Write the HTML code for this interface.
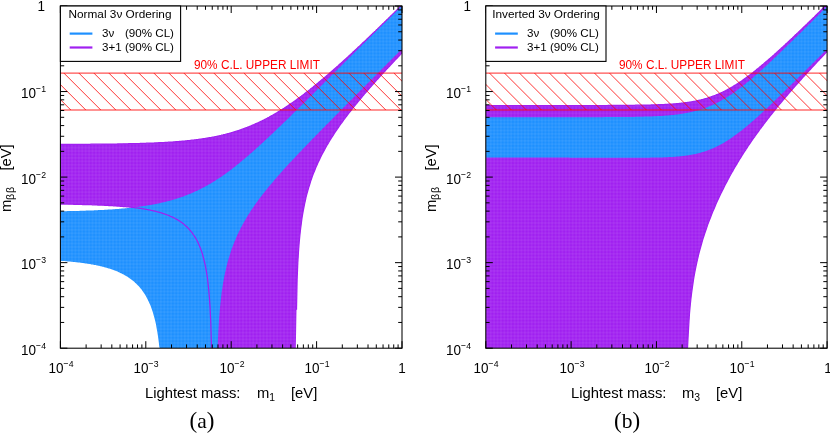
<!DOCTYPE html>
<html><head><meta charset="utf-8"><title>m_bb vs lightest mass</title>
<style>
html,body{margin:0;padding:0;background:#fff;overflow:hidden;}
body{width:830px;height:435px;position:relative;overflow:hidden;font-family:"Liberation Sans",sans-serif;color:#000;}
.t{position:absolute;white-space:nowrap;font-size:13.5px;line-height:14px;will-change:transform;}
.c{transform:translateX(-50%);}
.r{transform:translateX(-100%);}
sup{font-size:8.7px;line-height:0;vertical-align:baseline;position:relative;top:-5.5px;letter-spacing:0;}
sub{font-size:10.4px;line-height:0;vertical-align:baseline;position:relative;top:2.6px;}
.tk{display:inline-block;transform:scaleY(1.14);transform-origin:50% 80%;}
.lg{font-size:11.8px;line-height:12px;}
.le{font-size:11.6px;}
.ax{font-size:14.8px;line-height:15px;}
.red{color:#ff0000;font-size:11.8px;line-height:11px;transform:scaleY(1.07);transform-origin:50% 85%;}
.bb{font-size:10.6px;position:relative;top:3.2px;margin-left:-0.3px;letter-spacing:0.9px;}
.ev{position:absolute;left:41.4px;top:0;}
.pr{font-size:23px;position:relative;top:0px;}
.cap{font-family:"Liberation Serif",serif;font-size:21.5px;line-height:22px;}
#wrap{position:absolute;left:0;top:0;width:830px;height:435px;overflow:hidden;}
</style></head><body><div id="wrap">

<svg width="830" height="435" viewBox="0 0 830 435" style="position:absolute;left:0;top:0">
<defs>
<clipPath id="clipa"><rect x="60.4" y="6.0" width="341.6" height="342.2"/></clipPath>
<clipPath id="clipb"><rect x="485.8" y="6.0" width="341.3" height="342.2"/></clipPath>
<pattern id="grida" x="60.0" y="5.5" width="3.4200" height="3.4250" patternUnits="userSpaceOnUse"><path d="M1.710 0V3.425M0 1.712H3.420" stroke="#fff" stroke-opacity="0.1" stroke-width="0.85" fill="none"/></pattern>
<pattern id="gridb" x="485.6" y="5.5" width="3.4150" height="3.4250" patternUnits="userSpaceOnUse"><path d="M1.708 0V3.425M0 1.712H3.415" stroke="#fff" stroke-opacity="0.1" stroke-width="0.85" fill="none"/></pattern>
</defs>
<g clip-path="url(#clipa)">
<defs><path id="p4a" d="M60.0 144.4 L60.7 144.4 L61.4 144.4 L62.1 144.4 L62.7 144.4 L63.4 144.4 L64.1 144.4 L64.8 144.4 L65.5 144.4 L66.2 144.4 L66.9 144.4 L67.5 144.4 L68.2 144.4 L68.9 144.4 L69.6 144.4 L70.3 144.4 L71.0 144.4 L71.7 144.4 L72.3 144.4 L73.0 144.4 L73.7 144.4 L74.4 144.4 L75.1 144.3 L75.8 144.3 L76.4 144.3 L77.1 144.3 L77.8 144.3 L78.5 144.3 L79.2 144.3 L79.9 144.3 L80.6 144.3 L81.2 144.3 L81.9 144.3 L82.6 144.3 L83.3 144.3 L84.0 144.3 L84.7 144.3 L85.4 144.3 L86.0 144.3 L86.7 144.3 L87.4 144.3 L88.1 144.3 L88.8 144.3 L89.5 144.3 L90.2 144.3 L90.8 144.2 L91.5 144.2 L92.2 144.2 L92.9 144.2 L93.6 144.2 L94.3 144.2 L95.0 144.2 L95.6 144.2 L96.3 144.2 L97.0 144.2 L97.7 144.2 L98.4 144.2 L99.1 144.2 L99.8 144.2 L100.4 144.2 L101.1 144.2 L101.8 144.1 L102.5 144.1 L103.2 144.1 L103.9 144.1 L104.5 144.1 L105.2 144.1 L105.9 144.1 L106.6 144.1 L107.3 144.1 L108.0 144.1 L108.7 144.1 L109.3 144.1 L110.0 144.1 L110.7 144.0 L111.4 144.0 L112.1 144.0 L112.8 144.0 L113.5 144.0 L114.1 144.0 L114.8 144.0 L115.5 144.0 L116.2 144.0 L116.9 144.0 L117.6 143.9 L118.3 143.9 L118.9 143.9 L119.6 143.9 L120.3 143.9 L121.0 143.9 L121.7 143.9 L122.4 143.9 L123.1 143.8 L123.7 143.8 L124.4 143.8 L125.1 143.8 L125.8 143.8 L126.5 143.8 L127.2 143.8 L127.9 143.8 L128.5 143.7 L129.2 143.7 L129.9 143.7 L130.6 143.7 L131.3 143.7 L132.0 143.7 L132.6 143.6 L133.3 143.6 L134.0 143.6 L134.7 143.6 L135.4 143.6 L136.1 143.6 L136.8 143.5 L137.4 143.5 L138.1 143.5 L138.8 143.5 L139.5 143.5 L140.2 143.4 L140.9 143.4 L141.6 143.4 L142.2 143.4 L142.9 143.4 L143.6 143.3 L144.3 143.3 L145.0 143.3 L145.7 143.3 L146.4 143.2 L147.0 143.2 L147.7 143.2 L148.4 143.2 L149.1 143.1 L149.8 143.1 L150.5 143.1 L151.2 143.1 L151.8 143.0 L152.5 143.0 L153.2 143.0 L153.9 143.0 L154.6 142.9 L155.3 142.9 L156.0 142.9 L156.6 142.8 L157.3 142.8 L158.0 142.8 L158.7 142.7 L159.4 142.7 L160.1 142.7 L160.7 142.6 L161.4 142.6 L162.1 142.6 L162.8 142.5 L163.5 142.5 L164.2 142.5 L164.9 142.4 L165.5 142.4 L166.2 142.3 L166.9 142.3 L167.6 142.3 L168.3 142.2 L169.0 142.2 L169.7 142.1 L170.3 142.1 L171.0 142.0 L171.7 142.0 L172.4 142.0 L173.1 141.9 L173.8 141.9 L174.5 141.8 L175.1 141.8 L175.8 141.7 L176.5 141.7 L177.2 141.6 L177.9 141.5 L178.6 141.5 L179.3 141.4 L179.9 141.4 L180.6 141.3 L181.3 141.3 L182.0 141.2 L182.7 141.1 L183.4 141.1 L184.1 141.0 L184.7 141.0 L185.4 140.9 L186.1 140.8 L186.8 140.8 L187.5 140.7 L188.2 140.6 L188.8 140.5 L189.5 140.5 L190.2 140.4 L190.9 140.3 L191.6 140.2 L192.3 140.2 L193.0 140.1 L193.6 140.0 L194.3 139.9 L195.0 139.8 L195.7 139.8 L196.4 139.7 L197.1 139.6 L197.8 139.5 L198.4 139.4 L199.1 139.3 L199.8 139.2 L200.5 139.1 L201.2 139.0 L201.9 138.9 L202.6 138.8 L203.2 138.7 L203.9 138.6 L204.6 138.5 L205.3 138.4 L206.0 138.3 L206.7 138.2 L207.4 138.1 L208.0 137.9 L208.7 137.8 L209.4 137.7 L210.1 137.6 L210.8 137.5 L211.5 137.3 L212.2 137.2 L212.8 137.1 L213.5 137.0 L214.2 136.8 L214.9 136.7 L215.6 136.5 L216.3 136.4 L216.9 136.3 L217.6 136.1 L218.3 136.0 L219.0 135.8 L219.7 135.7 L220.4 135.5 L221.1 135.4 L221.7 135.2 L222.4 135.0 L223.1 134.9 L223.8 134.7 L224.5 134.5 L225.2 134.4 L225.9 134.2 L226.5 134.0 L227.2 133.8 L227.9 133.6 L228.6 133.5 L229.3 133.3 L230.0 133.1 L230.7 132.9 L231.3 132.7 L232.0 132.5 L232.7 132.3 L233.4 132.1 L234.1 131.9 L234.8 131.7 L235.5 131.5 L236.1 131.2 L236.8 131.0 L237.5 130.8 L238.2 130.6 L238.9 130.4 L239.6 130.1 L240.3 129.9 L240.9 129.7 L241.6 129.4 L242.3 129.2 L243.0 128.9 L243.7 128.7 L244.4 128.4 L245.1 128.2 L245.7 127.9 L246.4 127.6 L247.1 127.4 L247.8 127.1 L248.5 126.8 L249.2 126.6 L249.8 126.3 L250.5 126.0 L251.2 125.7 L251.9 125.4 L252.6 125.1 L253.3 124.8 L254.0 124.5 L254.6 124.2 L255.3 123.9 L256.0 123.6 L256.7 123.3 L257.4 123.0 L258.1 122.7 L258.8 122.4 L259.4 122.0 L260.1 121.7 L260.8 121.4 L261.5 121.1 L262.2 120.7 L262.9 120.4 L263.6 120.0 L264.2 119.7 L264.9 119.3 L265.6 119.0 L266.3 118.6 L267.0 118.3 L267.7 117.9 L268.4 117.5 L269.0 117.2 L269.7 116.8 L270.4 116.4 L271.1 116.0 L271.8 115.6 L272.5 115.3 L273.2 114.9 L273.8 114.5 L274.5 114.1 L275.2 113.7 L275.9 113.3 L276.6 112.9 L277.3 112.5 L277.9 112.0 L278.6 111.6 L279.3 111.2 L280.0 110.8 L280.7 110.4 L281.4 109.9 L282.1 109.5 L282.7 109.1 L283.4 108.6 L284.1 108.2 L284.8 107.7 L285.5 107.3 L286.2 106.8 L286.9 106.4 L287.5 105.9 L288.2 105.5 L288.9 105.0 L289.6 104.5 L290.3 104.1 L291.0 103.6 L291.7 103.1 L292.3 102.7 L293.0 102.2 L293.7 101.7 L294.4 101.2 L295.1 100.7 L295.8 100.2 L296.5 99.7 L297.1 99.2 L297.8 98.7 L298.5 98.2 L299.2 97.7 L299.9 97.2 L300.6 96.7 L301.3 96.2 L301.9 95.7 L302.6 95.2 L303.3 94.7 L304.0 94.2 L304.7 93.6 L305.4 93.1 L306.0 92.6 L306.7 92.0 L307.4 91.5 L308.1 91.0 L308.8 90.4 L309.5 89.9 L310.2 89.4 L310.8 88.8 L311.5 88.3 L312.2 87.7 L312.9 87.2 L313.6 86.6 L314.3 86.1 L315.0 85.5 L315.6 85.0 L316.3 84.4 L317.0 83.8 L317.7 83.3 L318.4 82.7 L319.1 82.1 L319.8 81.6 L320.4 81.0 L321.1 80.4 L321.8 79.8 L322.5 79.3 L323.2 78.7 L323.9 78.1 L324.6 77.5 L325.2 76.9 L325.9 76.4 L326.6 75.8 L327.3 75.2 L328.0 74.6 L328.7 74.0 L329.4 73.4 L330.0 72.8 L330.7 72.2 L331.4 71.6 L332.1 71.0 L332.8 70.4 L333.5 69.8 L334.1 69.2 L334.8 68.6 L335.5 68.0 L336.2 67.4 L336.9 66.8 L337.6 66.2 L338.3 65.6 L338.9 64.9 L339.6 64.3 L340.3 63.7 L341.0 63.1 L341.7 62.5 L342.4 61.9 L343.1 61.2 L343.7 60.6 L344.4 60.0 L345.1 59.4 L345.8 58.8 L346.5 58.1 L347.2 57.5 L347.9 56.9 L348.5 56.2 L349.2 55.6 L349.9 55.0 L350.6 54.4 L351.3 53.7 L352.0 53.1 L352.7 52.5 L353.3 51.8 L354.0 51.2 L354.7 50.5 L355.4 49.9 L356.1 49.3 L356.8 48.6 L357.5 48.0 L358.1 47.3 L358.8 46.7 L359.5 46.1 L360.2 45.4 L360.9 44.8 L361.6 44.1 L362.2 43.5 L362.9 42.8 L363.6 42.2 L364.3 41.5 L365.0 40.9 L365.7 40.2 L366.4 39.6 L367.0 38.9 L367.7 38.3 L368.4 37.6 L369.1 37.0 L369.8 36.3 L370.5 35.7 L371.2 35.0 L371.8 34.4 L372.5 33.7 L373.2 33.0 L373.9 32.4 L374.6 31.7 L375.3 31.1 L376.0 30.4 L376.6 29.7 L377.3 29.1 L378.0 28.4 L378.7 27.8 L379.4 27.1 L380.1 26.4 L380.8 25.8 L381.4 25.1 L382.1 24.5 L382.8 23.8 L383.5 23.1 L384.2 22.5 L384.9 21.8 L385.6 21.1 L386.2 20.5 L386.9 19.8 L387.6 19.1 L388.3 18.5 L389.0 17.8 L389.7 17.1 L390.3 16.5 L391.0 15.8 L391.7 15.1 L392.4 14.4 L393.1 13.8 L393.8 13.1 L394.5 12.4 L395.1 11.8 L395.8 11.1 L396.5 10.4 L397.2 9.7 L397.9 9.1 L398.6 8.4 L399.3 7.7 L399.9 7.0 L400.6 6.4 L401.3 5.7 L402.0 5.5 L402.0 52.9 L401.3 53.6 L400.6 54.4 L399.9 55.1 L399.3 55.8 L398.6 56.5 L397.9 57.2 L397.2 58.0 L396.5 58.7 L395.8 59.4 L395.1 60.1 L394.5 60.9 L393.8 61.6 L393.1 62.3 L392.4 63.0 L391.7 63.8 L391.0 64.5 L390.3 65.2 L389.7 66.0 L389.0 66.7 L388.3 67.4 L387.6 68.2 L386.9 68.9 L386.2 69.7 L385.6 70.4 L384.9 71.2 L384.2 71.9 L383.5 72.6 L382.8 73.4 L382.1 74.1 L381.4 74.9 L380.8 75.6 L380.1 76.4 L379.4 77.1 L378.7 77.9 L378.0 78.7 L377.3 79.4 L376.6 80.2 L376.0 80.9 L375.3 81.7 L374.6 82.5 L373.9 83.3 L373.2 84.0 L372.5 84.8 L371.8 85.6 L371.2 86.3 L370.5 87.1 L369.8 87.9 L369.1 88.7 L368.4 89.5 L367.7 90.3 L367.0 91.1 L366.4 91.9 L365.7 92.6 L365.0 93.4 L364.3 94.2 L363.6 95.1 L362.9 95.9 L362.2 96.7 L361.6 97.5 L360.9 98.3 L360.2 99.1 L359.5 99.9 L358.8 100.8 L358.1 101.6 L357.5 102.4 L356.8 103.3 L356.1 104.1 L355.4 104.9 L354.7 105.8 L354.0 106.6 L353.3 107.5 L352.7 108.4 L352.0 109.2 L351.3 110.1 L350.6 111.0 L349.9 111.8 L349.2 112.7 L348.5 113.6 L347.9 114.5 L347.2 115.4 L346.5 116.3 L345.8 117.2 L345.1 118.1 L344.4 119.0 L343.7 120.0 L343.1 120.9 L342.4 121.8 L341.7 122.8 L341.0 123.7 L340.3 124.7 L339.6 125.7 L338.9 126.6 L338.3 127.6 L337.6 128.6 L336.9 129.6 L336.2 130.6 L335.5 131.6 L334.8 132.7 L334.1 133.7 L333.5 134.8 L332.8 135.8 L332.1 136.9 L331.4 138.0 L330.7 139.1 L330.0 140.2 L329.4 141.3 L328.7 142.5 L328.0 143.6 L327.3 144.8 L326.6 146.0 L325.9 147.2 L325.2 148.4 L324.6 149.6 L323.9 150.9 L323.2 152.2 L322.5 153.5 L321.8 154.8 L321.1 156.1 L320.4 157.5 L319.8 158.9 L319.1 160.4 L318.4 161.8 L317.7 163.3 L317.0 164.9 L316.3 166.4 L315.6 168.0 L315.0 169.7 L314.3 171.4 L313.6 173.1 L312.9 174.9 L312.2 176.8 L311.5 178.7 L310.8 180.7 L310.2 182.8 L309.5 185.0 L308.8 187.2 L308.1 189.6 L307.4 192.1 L306.7 194.7 L306.0 197.4 L305.4 200.3 L304.7 203.4 L304.0 206.8 L303.3 210.4 L302.6 214.3 L301.9 218.6 L301.3 223.4 L300.6 228.8 L299.9 235.0 L299.2 242.3 L298.5 251.3 L297.8 262.9 L297.1 279.6 L296.5 309.8 L295.8 348.0 L295.1 348.0 L294.4 348.0 L293.7 348.0 L293.0 348.0 L292.3 348.0 L291.7 348.0 L291.0 348.0 L290.3 348.0 L289.6 348.0 L288.9 348.0 L288.2 348.0 L287.5 348.0 L286.9 348.0 L286.2 348.0 L285.5 348.0 L284.8 348.0 L284.1 348.0 L283.4 348.0 L282.7 348.0 L282.1 348.0 L281.4 348.0 L280.7 348.0 L280.0 348.0 L279.3 348.0 L278.6 348.0 L277.9 348.0 L277.3 348.0 L276.6 348.0 L275.9 348.0 L275.2 348.0 L274.5 348.0 L273.8 348.0 L273.2 348.0 L272.5 348.0 L271.8 348.0 L271.1 348.0 L270.4 348.0 L269.7 348.0 L269.0 348.0 L268.4 348.0 L267.7 348.0 L267.0 348.0 L266.3 348.0 L265.6 348.0 L264.9 348.0 L264.2 348.0 L263.6 348.0 L262.9 348.0 L262.2 348.0 L261.5 348.0 L260.8 348.0 L260.1 348.0 L259.4 348.0 L258.8 348.0 L258.1 348.0 L257.4 348.0 L256.7 348.0 L256.0 348.0 L255.3 348.0 L254.6 348.0 L254.0 348.0 L253.3 348.0 L252.6 348.0 L251.9 348.0 L251.2 348.0 L250.5 348.0 L249.8 348.0 L249.2 348.0 L248.5 348.0 L247.8 348.0 L247.1 348.0 L246.4 348.0 L245.7 348.0 L245.1 348.0 L244.4 348.0 L243.7 348.0 L243.0 348.0 L242.3 348.0 L241.6 348.0 L240.9 348.0 L240.3 348.0 L239.6 348.0 L238.9 348.0 L238.2 348.0 L237.5 348.0 L236.8 348.0 L236.1 348.0 L235.5 348.0 L234.8 348.0 L234.1 348.0 L233.4 348.0 L232.7 348.0 L232.0 348.0 L231.3 348.0 L230.7 348.0 L230.0 348.0 L229.3 348.0 L228.6 348.0 L227.9 348.0 L227.2 348.0 L226.5 348.0 L225.9 348.0 L225.2 348.0 L224.5 348.0 L223.8 348.0 L223.1 348.0 L222.4 348.0 L221.7 348.0 L221.1 348.0 L220.4 348.0 L219.7 348.0 L219.0 348.0 L218.3 348.0 L217.6 348.0 L216.9 348.0 L216.3 348.0 L215.6 348.0 L214.9 348.0 L214.2 348.0 L213.5 348.0 L212.8 348.0 L212.2 348.0 L211.5 348.0 L210.8 323.1 L210.1 308.0 L209.4 297.6 L208.7 289.6 L208.0 283.1 L207.4 277.8 L206.7 273.2 L206.0 269.1 L205.3 265.6 L204.6 262.4 L203.9 259.6 L203.2 257.0 L202.6 254.6 L201.9 252.4 L201.2 250.4 L200.5 248.5 L199.8 246.7 L199.1 245.1 L198.4 243.6 L197.8 242.1 L197.1 240.8 L196.4 239.5 L195.7 238.3 L195.0 237.1 L194.3 236.0 L193.6 235.0 L193.0 234.0 L192.3 233.1 L191.6 232.2 L190.9 231.3 L190.2 230.5 L189.5 229.7 L188.8 228.9 L188.2 228.2 L187.5 227.5 L186.8 226.8 L186.1 226.2 L185.4 225.6 L184.7 225.0 L184.1 224.4 L183.4 223.8 L182.7 223.3 L182.0 222.8 L181.3 222.3 L180.6 221.8 L179.9 221.3 L179.3 220.9 L178.6 220.5 L177.9 220.0 L177.2 219.6 L176.5 219.2 L175.8 218.9 L175.1 218.5 L174.5 218.1 L173.8 217.8 L173.1 217.4 L172.4 217.1 L171.7 216.8 L171.0 216.5 L170.3 216.2 L169.7 215.9 L169.0 215.6 L168.3 215.3 L167.6 215.0 L166.9 214.8 L166.2 214.5 L165.5 214.3 L164.9 214.0 L164.2 213.8 L163.5 213.6 L162.8 213.4 L162.1 213.1 L161.4 212.9 L160.7 212.7 L160.1 212.5 L159.4 212.3 L158.7 212.1 L158.0 211.9 L157.3 211.8 L156.6 211.6 L156.0 211.4 L155.3 211.2 L154.6 211.1 L153.9 210.9 L153.2 210.8 L152.5 210.6 L151.8 210.5 L151.2 210.3 L150.5 210.2 L149.8 210.0 L149.1 209.9 L148.4 209.8 L147.7 209.6 L147.0 209.5 L146.4 209.4 L145.7 209.3 L145.0 209.2 L144.3 209.0 L143.6 208.9 L142.9 208.8 L142.2 208.7 L141.6 208.6 L140.9 208.5 L140.2 208.4 L139.5 208.3 L138.8 208.2 L138.1 208.1 L137.4 208.0 L136.8 207.9 L136.1 207.8 L135.4 207.8 L134.7 207.7 L134.0 207.6 L133.3 207.5 L132.6 207.4 L132.0 207.3 L131.3 207.3 L130.6 207.2 L129.9 207.1 L129.2 207.1 L128.5 207.0 L127.9 206.9 L127.2 206.8 L126.5 206.8 L125.8 206.7 L125.1 206.7 L124.4 206.6 L123.7 206.5 L123.1 206.5 L122.4 206.4 L121.7 206.4 L121.0 206.3 L120.3 206.3 L119.6 206.2 L118.9 206.1 L118.3 206.1 L117.6 206.0 L116.9 206.0 L116.2 205.9 L115.5 205.9 L114.8 205.9 L114.1 205.8 L113.5 205.8 L112.8 205.7 L112.1 205.7 L111.4 205.6 L110.7 205.6 L110.0 205.6 L109.3 205.5 L108.7 205.5 L108.0 205.4 L107.3 205.4 L106.6 205.4 L105.9 205.3 L105.2 205.3 L104.5 205.3 L103.9 205.2 L103.2 205.2 L102.5 205.2 L101.8 205.1 L101.1 205.1 L100.4 205.1 L99.8 205.0 L99.1 205.0 L98.4 205.0 L97.7 205.0 L97.0 204.9 L96.3 204.9 L95.6 204.9 L95.0 204.9 L94.3 204.8 L93.6 204.8 L92.9 204.8 L92.2 204.8 L91.5 204.7 L90.8 204.7 L90.2 204.7 L89.5 204.7 L88.8 204.6 L88.1 204.6 L87.4 204.6 L86.7 204.6 L86.0 204.6 L85.4 204.5 L84.7 204.5 L84.0 204.5 L83.3 204.5 L82.6 204.5 L81.9 204.4 L81.2 204.4 L80.6 204.4 L79.9 204.4 L79.2 204.4 L78.5 204.4 L77.8 204.3 L77.1 204.3 L76.4 204.3 L75.8 204.3 L75.1 204.3 L74.4 204.3 L73.7 204.3 L73.0 204.2 L72.3 204.2 L71.7 204.2 L71.0 204.2 L70.3 204.2 L69.6 204.2 L68.9 204.2 L68.2 204.2 L67.5 204.1 L66.9 204.1 L66.2 204.1 L65.5 204.1 L64.8 204.1 L64.1 204.1 L63.4 204.1 L62.7 204.1 L62.1 204.1 L61.4 204.0 L60.7 204.0 L60.0 204.0Z"/><path id="p3a" d="M60.0 211.3 L60.7 211.3 L61.4 211.3 L62.1 211.3 L62.7 211.2 L63.4 211.2 L64.1 211.2 L64.8 211.2 L65.5 211.2 L66.2 211.2 L66.9 211.2 L67.5 211.1 L68.2 211.1 L68.9 211.1 L69.6 211.1 L70.3 211.1 L71.0 211.1 L71.7 211.1 L72.3 211.0 L73.0 211.0 L73.7 211.0 L74.4 211.0 L75.1 211.0 L75.8 211.0 L76.4 210.9 L77.1 210.9 L77.8 210.9 L78.5 210.9 L79.2 210.9 L79.9 210.8 L80.6 210.8 L81.2 210.8 L81.9 210.8 L82.6 210.8 L83.3 210.7 L84.0 210.7 L84.7 210.7 L85.4 210.7 L86.0 210.6 L86.7 210.6 L87.4 210.6 L88.1 210.6 L88.8 210.5 L89.5 210.5 L90.2 210.5 L90.8 210.5 L91.5 210.4 L92.2 210.4 L92.9 210.4 L93.6 210.4 L94.3 210.3 L95.0 210.3 L95.6 210.3 L96.3 210.2 L97.0 210.2 L97.7 210.2 L98.4 210.1 L99.1 210.1 L99.8 210.1 L100.4 210.0 L101.1 210.0 L101.8 210.0 L102.5 209.9 L103.2 209.9 L103.9 209.9 L104.5 209.8 L105.2 209.8 L105.9 209.7 L106.6 209.7 L107.3 209.7 L108.0 209.6 L108.7 209.6 L109.3 209.5 L110.0 209.5 L110.7 209.5 L111.4 209.4 L112.1 209.4 L112.8 209.3 L113.5 209.3 L114.1 209.2 L114.8 209.2 L115.5 209.1 L116.2 209.1 L116.9 209.0 L117.6 209.0 L118.3 208.9 L118.9 208.9 L119.6 208.8 L120.3 208.7 L121.0 208.7 L121.7 208.6 L122.4 208.6 L123.1 208.5 L123.7 208.4 L124.4 208.4 L125.1 208.3 L125.8 208.3 L126.5 208.2 L127.2 208.1 L127.9 208.0 L128.5 208.0 L129.2 207.9 L129.9 207.8 L130.6 207.8 L131.3 207.7 L132.0 207.6 L132.6 207.5 L133.3 207.5 L134.0 207.4 L134.7 207.3 L135.4 207.2 L136.1 207.1 L136.8 207.0 L137.4 207.0 L138.1 206.9 L138.8 206.8 L139.5 206.7 L140.2 206.6 L140.9 206.5 L141.6 206.4 L142.2 206.3 L142.9 206.2 L143.6 206.1 L144.3 206.0 L145.0 205.9 L145.7 205.8 L146.4 205.7 L147.0 205.6 L147.7 205.5 L148.4 205.3 L149.1 205.2 L149.8 205.1 L150.5 205.0 L151.2 204.9 L151.8 204.7 L152.5 204.6 L153.2 204.5 L153.9 204.4 L154.6 204.2 L155.3 204.1 L156.0 204.0 L156.6 203.8 L157.3 203.7 L158.0 203.5 L158.7 203.4 L159.4 203.3 L160.1 203.1 L160.7 203.0 L161.4 202.8 L162.1 202.6 L162.8 202.5 L163.5 202.3 L164.2 202.2 L164.9 202.0 L165.5 201.8 L166.2 201.6 L166.9 201.5 L167.6 201.3 L168.3 201.1 L169.0 200.9 L169.7 200.7 L170.3 200.6 L171.0 200.4 L171.7 200.2 L172.4 200.0 L173.1 199.8 L173.8 199.6 L174.5 199.4 L175.1 199.2 L175.8 198.9 L176.5 198.7 L177.2 198.5 L177.9 198.3 L178.6 198.1 L179.3 197.8 L179.9 197.6 L180.6 197.4 L181.3 197.1 L182.0 196.9 L182.7 196.7 L183.4 196.4 L184.1 196.2 L184.7 195.9 L185.4 195.6 L186.1 195.4 L186.8 195.1 L187.5 194.8 L188.2 194.6 L188.8 194.3 L189.5 194.0 L190.2 193.7 L190.9 193.4 L191.6 193.2 L192.3 192.9 L193.0 192.6 L193.6 192.3 L194.3 192.0 L195.0 191.6 L195.7 191.3 L196.4 191.0 L197.1 190.7 L197.8 190.4 L198.4 190.0 L199.1 189.7 L199.8 189.4 L200.5 189.0 L201.2 188.7 L201.9 188.3 L202.6 188.0 L203.2 187.6 L203.9 187.2 L204.6 186.9 L205.3 186.5 L206.0 186.1 L206.7 185.8 L207.4 185.4 L208.0 185.0 L208.7 184.6 L209.4 184.2 L210.1 183.8 L210.8 183.4 L211.5 183.0 L212.2 182.6 L212.8 182.2 L213.5 181.7 L214.2 181.3 L214.9 180.9 L215.6 180.4 L216.3 180.0 L216.9 179.6 L217.6 179.1 L218.3 178.7 L219.0 178.2 L219.7 177.8 L220.4 177.3 L221.1 176.8 L221.7 176.4 L222.4 175.9 L223.1 175.4 L223.8 174.9 L224.5 174.4 L225.2 174.0 L225.9 173.5 L226.5 173.0 L227.2 172.5 L227.9 172.0 L228.6 171.5 L229.3 171.0 L230.0 170.4 L230.7 169.9 L231.3 169.4 L232.0 168.9 L232.7 168.4 L233.4 167.8 L234.1 167.3 L234.8 166.7 L235.5 166.2 L236.1 165.7 L236.8 165.1 L237.5 164.6 L238.2 164.0 L238.9 163.5 L239.6 162.9 L240.3 162.3 L240.9 161.8 L241.6 161.2 L242.3 160.6 L243.0 160.1 L243.7 159.5 L244.4 158.9 L245.1 158.3 L245.7 157.7 L246.4 157.2 L247.1 156.6 L247.8 156.0 L248.5 155.4 L249.2 154.8 L249.8 154.2 L250.5 153.6 L251.2 153.0 L251.9 152.4 L252.6 151.8 L253.3 151.2 L254.0 150.6 L254.6 150.0 L255.3 149.4 L256.0 148.7 L256.7 148.1 L257.4 147.5 L258.1 146.9 L258.8 146.3 L259.4 145.6 L260.1 145.0 L260.8 144.4 L261.5 143.8 L262.2 143.1 L262.9 142.5 L263.6 141.9 L264.2 141.2 L264.9 140.6 L265.6 140.0 L266.3 139.3 L267.0 138.7 L267.7 138.0 L268.4 137.4 L269.0 136.7 L269.7 136.1 L270.4 135.5 L271.1 134.8 L271.8 134.2 L272.5 133.5 L273.2 132.9 L273.8 132.2 L274.5 131.6 L275.2 130.9 L275.9 130.3 L276.6 129.6 L277.3 128.9 L277.9 128.3 L278.6 127.6 L279.3 127.0 L280.0 126.3 L280.7 125.7 L281.4 125.0 L282.1 124.3 L282.7 123.7 L283.4 123.0 L284.1 122.3 L284.8 121.7 L285.5 121.0 L286.2 120.4 L286.9 119.7 L287.5 119.0 L288.2 118.4 L288.9 117.7 L289.6 117.0 L290.3 116.4 L291.0 115.7 L291.7 115.0 L292.3 114.3 L293.0 113.7 L293.7 113.0 L294.4 112.3 L295.1 111.7 L295.8 111.0 L296.5 110.3 L297.1 109.6 L297.8 109.0 L298.5 108.3 L299.2 107.6 L299.9 106.9 L300.6 106.3 L301.3 105.6 L301.9 104.9 L302.6 104.2 L303.3 103.6 L304.0 102.9 L304.7 102.2 L305.4 101.5 L306.0 100.9 L306.7 100.2 L307.4 99.5 L308.1 98.8 L308.8 98.1 L309.5 97.5 L310.2 96.8 L310.8 96.1 L311.5 95.4 L312.2 94.7 L312.9 94.1 L313.6 93.4 L314.3 92.7 L315.0 92.0 L315.6 91.3 L316.3 90.7 L317.0 90.0 L317.7 89.3 L318.4 88.6 L319.1 87.9 L319.8 87.2 L320.4 86.6 L321.1 85.9 L321.8 85.2 L322.5 84.5 L323.2 83.8 L323.9 83.2 L324.6 82.5 L325.2 81.8 L325.9 81.1 L326.6 80.4 L327.3 79.7 L328.0 79.1 L328.7 78.4 L329.4 77.7 L330.0 77.0 L330.7 76.3 L331.4 75.6 L332.1 75.0 L332.8 74.3 L333.5 73.6 L334.1 72.9 L334.8 72.2 L335.5 71.5 L336.2 70.8 L336.9 70.2 L337.6 69.5 L338.3 68.8 L338.9 68.1 L339.6 67.4 L340.3 66.7 L341.0 66.1 L341.7 65.4 L342.4 64.7 L343.1 64.0 L343.7 63.3 L344.4 62.6 L345.1 61.9 L345.8 61.3 L346.5 60.6 L347.2 59.9 L347.9 59.2 L348.5 58.5 L349.2 57.8 L349.9 57.1 L350.6 56.5 L351.3 55.8 L352.0 55.1 L352.7 54.4 L353.3 53.7 L354.0 53.0 L354.7 52.3 L355.4 51.7 L356.1 51.0 L356.8 50.3 L357.5 49.6 L358.1 48.9 L358.8 48.2 L359.5 47.5 L360.2 46.9 L360.9 46.2 L361.6 45.5 L362.2 44.8 L362.9 44.1 L363.6 43.4 L364.3 42.7 L365.0 42.1 L365.7 41.4 L366.4 40.7 L367.0 40.0 L367.7 39.3 L368.4 38.6 L369.1 37.9 L369.8 37.3 L370.5 36.6 L371.2 35.9 L371.8 35.2 L372.5 34.5 L373.2 33.8 L373.9 33.1 L374.6 32.5 L375.3 31.8 L376.0 31.1 L376.6 30.4 L377.3 29.7 L378.0 29.0 L378.7 28.3 L379.4 27.7 L380.1 27.0 L380.8 26.3 L381.4 25.6 L382.1 24.9 L382.8 24.2 L383.5 23.5 L384.2 22.8 L384.9 22.2 L385.6 21.5 L386.2 20.8 L386.9 20.1 L387.6 19.4 L388.3 18.7 L389.0 18.0 L389.7 17.4 L390.3 16.7 L391.0 16.0 L391.7 15.3 L392.4 14.6 L393.1 13.9 L393.8 13.2 L394.5 12.6 L395.1 11.9 L395.8 11.2 L396.5 10.5 L397.2 9.8 L397.9 9.1 L398.6 8.4 L399.3 7.7 L399.9 7.1 L400.6 6.4 L401.3 5.7 L402.0 5.5 L402.0 48.9 L401.3 49.6 L400.6 50.3 L399.9 51.0 L399.3 51.7 L398.6 52.3 L397.9 53.0 L397.2 53.7 L396.5 54.4 L395.8 55.1 L395.1 55.8 L394.5 56.5 L393.8 57.1 L393.1 57.8 L392.4 58.5 L391.7 59.2 L391.0 59.9 L390.3 60.6 L389.7 61.3 L389.0 62.0 L388.3 62.6 L387.6 63.3 L386.9 64.0 L386.2 64.7 L385.6 65.4 L384.9 66.1 L384.2 66.8 L383.5 67.4 L382.8 68.1 L382.1 68.8 L381.4 69.5 L380.8 70.2 L380.1 70.9 L379.4 71.6 L378.7 72.3 L378.0 72.9 L377.3 73.6 L376.6 74.3 L376.0 75.0 L375.3 75.7 L374.6 76.4 L373.9 77.1 L373.2 77.8 L372.5 78.4 L371.8 79.1 L371.2 79.8 L370.5 80.5 L369.8 81.2 L369.1 81.9 L368.4 82.6 L367.7 83.3 L367.0 83.9 L366.4 84.6 L365.7 85.3 L365.0 86.0 L364.3 86.7 L363.6 87.4 L362.9 88.1 L362.2 88.8 L361.6 89.4 L360.9 90.1 L360.2 90.8 L359.5 91.5 L358.8 92.2 L358.1 92.9 L357.5 93.6 L356.8 94.3 L356.1 94.9 L355.4 95.6 L354.7 96.3 L354.0 97.0 L353.3 97.7 L352.7 98.4 L352.0 99.1 L351.3 99.8 L350.6 100.5 L349.9 101.1 L349.2 101.8 L348.5 102.5 L347.9 103.2 L347.2 103.9 L346.5 104.6 L345.8 105.3 L345.1 106.0 L344.4 106.7 L343.7 107.3 L343.1 108.0 L342.4 108.7 L341.7 109.4 L341.0 110.1 L340.3 110.8 L339.6 111.5 L338.9 112.2 L338.3 112.9 L337.6 113.6 L336.9 114.3 L336.2 114.9 L335.5 115.6 L334.8 116.3 L334.1 117.0 L333.5 117.7 L332.8 118.4 L332.1 119.1 L331.4 119.8 L330.7 120.5 L330.0 121.2 L329.4 121.9 L328.7 122.6 L328.0 123.3 L327.3 124.0 L326.6 124.6 L325.9 125.3 L325.2 126.0 L324.6 126.7 L323.9 127.4 L323.2 128.1 L322.5 128.8 L321.8 129.5 L321.1 130.2 L320.4 130.9 L319.8 131.6 L319.1 132.3 L318.4 133.0 L317.7 133.7 L317.0 134.4 L316.3 135.1 L315.6 135.8 L315.0 136.5 L314.3 137.2 L313.6 137.9 L312.9 138.6 L312.2 139.3 L311.5 140.0 L310.8 140.7 L310.2 141.5 L309.5 142.2 L308.8 142.9 L308.1 143.6 L307.4 144.3 L306.7 145.0 L306.0 145.7 L305.4 146.4 L304.7 147.1 L304.0 147.8 L303.3 148.6 L302.6 149.3 L301.9 150.0 L301.3 150.7 L300.6 151.4 L299.9 152.1 L299.2 152.9 L298.5 153.6 L297.8 154.3 L297.1 155.0 L296.5 155.8 L295.8 156.5 L295.1 157.2 L294.4 157.9 L293.7 158.7 L293.0 159.4 L292.3 160.1 L291.7 160.9 L291.0 161.6 L290.3 162.3 L289.6 163.1 L288.9 163.8 L288.2 164.6 L287.5 165.3 L286.9 166.1 L286.2 166.8 L285.5 167.6 L284.8 168.3 L284.1 169.1 L283.4 169.8 L282.7 170.6 L282.1 171.4 L281.4 172.1 L280.7 172.9 L280.0 173.7 L279.3 174.4 L278.6 175.2 L277.9 176.0 L277.3 176.8 L276.6 177.6 L275.9 178.4 L275.2 179.1 L274.5 179.9 L273.8 180.7 L273.2 181.5 L272.5 182.4 L271.8 183.2 L271.1 184.0 L270.4 184.8 L269.7 185.6 L269.0 186.4 L268.4 187.3 L267.7 188.1 L267.0 189.0 L266.3 189.8 L265.6 190.7 L264.9 191.5 L264.2 192.4 L263.6 193.3 L262.9 194.1 L262.2 195.0 L261.5 195.9 L260.8 196.8 L260.1 197.7 L259.4 198.6 L258.8 199.5 L258.1 200.5 L257.4 201.4 L256.7 202.3 L256.0 203.3 L255.3 204.3 L254.6 205.2 L254.0 206.2 L253.3 207.2 L252.6 208.2 L251.9 209.2 L251.2 210.3 L250.5 211.3 L249.8 212.4 L249.2 213.4 L248.5 214.5 L247.8 215.6 L247.1 216.8 L246.4 217.9 L245.7 219.0 L245.1 220.2 L244.4 221.4 L243.7 222.6 L243.0 223.9 L242.3 225.1 L241.6 226.4 L240.9 227.7 L240.3 229.0 L239.6 230.4 L238.9 231.8 L238.2 233.2 L237.5 234.7 L236.8 236.2 L236.1 237.8 L235.5 239.4 L234.8 241.0 L234.1 242.7 L233.4 244.4 L232.7 246.2 L232.0 248.1 L231.3 250.0 L230.7 252.1 L230.0 254.2 L229.3 256.4 L228.6 258.7 L227.9 261.1 L227.2 263.7 L226.5 266.4 L225.9 269.2 L225.2 272.3 L224.5 275.6 L223.8 279.2 L223.1 283.1 L222.4 287.4 L221.7 292.1 L221.1 297.5 L220.4 303.8 L219.7 311.1 L219.0 320.2 L218.3 332.0 L217.6 348.0 L216.9 348.0 L216.3 348.0 L215.6 348.0 L214.9 348.0 L214.2 348.0 L213.5 348.0 L212.8 348.0 L212.2 348.0 L211.5 348.0 L210.8 348.0 L210.1 348.0 L209.4 348.0 L208.7 348.0 L208.0 348.0 L207.4 348.0 L206.7 348.0 L206.0 348.0 L205.3 348.0 L204.6 348.0 L203.9 348.0 L203.2 348.0 L202.6 348.0 L201.9 348.0 L201.2 348.0 L200.5 348.0 L199.8 348.0 L199.1 348.0 L198.4 348.0 L197.8 348.0 L197.1 348.0 L196.4 348.0 L195.7 348.0 L195.0 348.0 L194.3 348.0 L193.6 348.0 L193.0 348.0 L192.3 348.0 L191.6 348.0 L190.9 348.0 L190.2 348.0 L189.5 348.0 L188.8 348.0 L188.2 348.0 L187.5 348.0 L186.8 348.0 L186.1 348.0 L185.4 348.0 L184.7 348.0 L184.1 348.0 L183.4 348.0 L182.7 348.0 L182.0 348.0 L181.3 348.0 L180.6 348.0 L179.9 348.0 L179.3 348.0 L178.6 348.0 L177.9 348.0 L177.2 348.0 L176.5 348.0 L175.8 348.0 L175.1 348.0 L174.5 348.0 L173.8 348.0 L173.1 348.0 L172.4 348.0 L171.7 348.0 L171.0 348.0 L170.3 348.0 L169.7 348.0 L169.0 348.0 L168.3 348.0 L167.6 348.0 L166.9 348.0 L166.2 348.0 L165.5 348.0 L164.9 348.0 L164.2 348.0 L163.5 348.0 L162.8 348.0 L162.1 348.0 L161.4 348.0 L160.7 348.0 L160.1 348.0 L159.4 347.4 L158.7 341.4 L158.0 336.2 L157.3 331.8 L156.6 327.9 L156.0 324.4 L155.3 321.3 L154.6 318.5 L153.9 315.9 L153.2 313.5 L152.5 311.3 L151.8 309.3 L151.2 307.4 L150.5 305.6 L149.8 303.9 L149.1 302.4 L148.4 300.9 L147.7 299.5 L147.0 298.2 L146.4 296.9 L145.7 295.7 L145.0 294.6 L144.3 293.5 L143.6 292.5 L142.9 291.5 L142.2 290.5 L141.6 289.6 L140.9 288.7 L140.2 287.9 L139.5 287.1 L138.8 286.3 L138.1 285.6 L137.4 284.9 L136.8 284.2 L136.1 283.5 L135.4 282.9 L134.7 282.2 L134.0 281.6 L133.3 281.1 L132.6 280.5 L132.0 280.0 L131.3 279.4 L130.6 278.9 L129.9 278.4 L129.2 278.0 L128.5 277.5 L127.9 277.0 L127.2 276.6 L126.5 276.2 L125.8 275.8 L125.1 275.4 L124.4 275.0 L123.7 274.6 L123.1 274.2 L122.4 273.9 L121.7 273.5 L121.0 273.2 L120.3 272.9 L119.6 272.5 L118.9 272.2 L118.3 271.9 L117.6 271.6 L116.9 271.3 L116.2 271.1 L115.5 270.8 L114.8 270.5 L114.1 270.2 L113.5 270.0 L112.8 269.7 L112.1 269.5 L111.4 269.3 L110.7 269.0 L110.0 268.8 L109.3 268.6 L108.7 268.4 L108.0 268.2 L107.3 268.0 L106.6 267.8 L105.9 267.6 L105.2 267.4 L104.5 267.2 L103.9 267.0 L103.2 266.8 L102.5 266.7 L101.8 266.5 L101.1 266.3 L100.4 266.2 L99.8 266.0 L99.1 265.8 L98.4 265.7 L97.7 265.5 L97.0 265.4 L96.3 265.3 L95.6 265.1 L95.0 265.0 L94.3 264.9 L93.6 264.7 L92.9 264.6 L92.2 264.5 L91.5 264.4 L90.8 264.2 L90.2 264.1 L89.5 264.0 L88.8 263.9 L88.1 263.8 L87.4 263.7 L86.7 263.6 L86.0 263.5 L85.4 263.4 L84.7 263.3 L84.0 263.2 L83.3 263.1 L82.6 263.0 L81.9 262.9 L81.2 262.8 L80.6 262.7 L79.9 262.6 L79.2 262.5 L78.5 262.5 L77.8 262.4 L77.1 262.3 L76.4 262.2 L75.8 262.2 L75.1 262.1 L74.4 262.0 L73.7 261.9 L73.0 261.9 L72.3 261.8 L71.7 261.7 L71.0 261.7 L70.3 261.6 L69.6 261.5 L68.9 261.5 L68.2 261.4 L67.5 261.4 L66.9 261.3 L66.2 261.2 L65.5 261.2 L64.8 261.1 L64.1 261.1 L63.4 261.0 L62.7 261.0 L62.1 260.9 L61.4 260.9 L60.7 260.8 L60.0 260.8Z"/></defs>
<use href="#p4a" fill="#a020f0"/>
<use href="#p4a" fill="url(#grida)"/>
<use href="#p3a" fill="#1e90ff"/>
<use href="#p3a" fill="url(#grida)"/>
<path d="M60.0 204.0 L60.7 204.0 L61.4 204.0 L62.1 204.1 L62.7 204.1 L63.4 204.1 L64.1 204.1 L64.8 204.1 L65.5 204.1 L66.2 204.1 L66.9 204.1 L67.5 204.1 L68.2 204.2 L68.9 204.2 L69.6 204.2 L70.3 204.2 L71.0 204.2 L71.7 204.2 L72.3 204.2 L73.0 204.2 L73.7 204.3 L74.4 204.3 L75.1 204.3 L75.8 204.3 L76.4 204.3 L77.1 204.3 L77.8 204.3 L78.5 204.4 L79.2 204.4 L79.9 204.4 L80.6 204.4 L81.2 204.4 L81.9 204.4 L82.6 204.5 L83.3 204.5 L84.0 204.5 L84.7 204.5 L85.4 204.5 L86.0 204.6 L86.7 204.6 L87.4 204.6 L88.1 204.6 L88.8 204.6 L89.5 204.7 L90.2 204.7 L90.8 204.7 L91.5 204.7 L92.2 204.8 L92.9 204.8 L93.6 204.8 L94.3 204.8 L95.0 204.9 L95.6 204.9 L96.3 204.9 L97.0 204.9 L97.7 205.0 L98.4 205.0 L99.1 205.0 L99.8 205.0 L100.4 205.1 L101.1 205.1 L101.8 205.1 L102.5 205.2 L103.2 205.2 L103.9 205.2 L104.5 205.3 L105.2 205.3 L105.9 205.3 L106.6 205.4 L107.3 205.4 L108.0 205.4 L108.7 205.5 L109.3 205.5 L110.0 205.6 L110.7 205.6 L111.4 205.6 L112.1 205.7 L112.8 205.7 L113.5 205.8 L114.1 205.8 L114.8 205.9 L115.5 205.9 L116.2 205.9 L116.9 206.0 L117.6 206.0 L118.3 206.1 L118.9 206.1 L119.6 206.2 L120.3 206.3 L121.0 206.3 L121.7 206.4 L122.4 206.4 L123.1 206.5 L123.7 206.5 L124.4 206.6 L125.1 206.7 L125.8 206.7 L126.5 206.8 L127.2 206.8 L127.9 206.9 L128.5 207.0 L129.2 207.1 L129.9 207.1 L130.6 207.2 L131.3 207.3 L132.0 207.3 L132.6 207.4 L133.3 207.5 L134.0 207.6 L134.7 207.7 L135.4 207.8 L136.1 207.8 L136.8 207.9 L137.4 208.0 L138.1 208.1 L138.8 208.2 L139.5 208.3 L140.2 208.4 L140.9 208.5 L141.6 208.6 L142.2 208.7 L142.9 208.8 L143.6 208.9 L144.3 209.0 L145.0 209.2 L145.7 209.3 L146.4 209.4 L147.0 209.5 L147.7 209.6 L148.4 209.8 L149.1 209.9 L149.8 210.0 L150.5 210.2 L151.2 210.3 L151.8 210.5 L152.5 210.6 L153.2 210.8 L153.9 210.9 L154.6 211.1 L155.3 211.2 L156.0 211.4 L156.6 211.6 L157.3 211.8 L158.0 211.9 L158.7 212.1 L159.4 212.3 L160.1 212.5 L160.7 212.7 L161.4 212.9 L162.1 213.1 L162.8 213.4 L163.5 213.6 L164.2 213.8 L164.9 214.0 L165.5 214.3 L166.2 214.5 L166.9 214.8 L167.6 215.0 L168.3 215.3 L169.0 215.6 L169.7 215.9 L170.3 216.2 L171.0 216.5 L171.7 216.8 L172.4 217.1 L173.1 217.4 L173.8 217.8 L174.5 218.1 L175.1 218.5 L175.8 218.9 L176.5 219.2 L177.2 219.6 L177.9 220.0 L178.6 220.5 L179.3 220.9 L179.9 221.3 L180.6 221.8 L181.3 222.3 L182.0 222.8 L182.7 223.3 L183.4 223.8 L184.1 224.4 L184.7 225.0 L185.4 225.6 L186.1 226.2 L186.8 226.8 L187.5 227.5 L188.2 228.2 L188.8 228.9 L189.5 229.7 L190.2 230.5 L190.9 231.3 L191.6 232.2 L192.3 233.1 L193.0 234.0 L193.6 235.0 L194.3 236.0 L195.0 237.1 L195.7 238.3 L196.4 239.5 L197.1 240.8 L197.8 242.1 L198.4 243.6 L199.1 245.1 L199.8 246.7 L200.5 248.5 L201.2 250.4 L201.9 252.4 L202.6 254.6 L203.2 257.0 L203.9 259.6 L204.6 262.4 L205.3 265.6 L206.0 269.1 L206.7 273.2 L207.4 277.8 L208.0 283.1 L208.7 289.6 L209.4 297.6 L210.1 308.0 L210.8 323.1 L211.5 348.0 M296.5 309.8 L297.1 279.6 L297.8 262.9 L298.5 251.3 L299.2 242.3 L299.9 235.0 L300.6 228.8 L301.3 223.4 L301.9 218.6 L302.6 214.3 L303.3 210.4 L304.0 206.8 L304.7 203.4 L305.4 200.3 L306.0 197.4 L306.7 194.7 L307.4 192.1 L308.1 189.6 L308.8 187.2 L309.5 185.0 L310.2 182.8 L310.8 180.7 L311.5 178.7 L312.2 176.8 L312.9 174.9 L313.6 173.1 L314.3 171.4 L315.0 169.7 L315.6 168.0 L316.3 166.4 L317.0 164.9 L317.7 163.3 L318.4 161.8 L319.1 160.4 L319.8 158.9 L320.4 157.5 L321.1 156.1 L321.8 154.8 L322.5 153.5 L323.2 152.2 L323.9 150.9 L324.6 149.6 L325.2 148.4 L325.9 147.2 L326.6 146.0 L327.3 144.8 L328.0 143.6 L328.7 142.5 L329.4 141.3 L330.0 140.2 L330.7 139.1 L331.4 138.0 L332.1 136.9 L332.8 135.8 L333.5 134.8 L334.1 133.7 L334.8 132.7 L335.5 131.6 L336.2 130.6 L336.9 129.6 L337.6 128.6 L338.3 127.6 L338.9 126.6 L339.6 125.7 L340.3 124.7 L341.0 123.7 L341.7 122.8 L342.4 121.8 L343.1 120.9 L343.7 120.0 L344.4 119.0 L345.1 118.1 L345.8 117.2 L346.5 116.3 L347.2 115.4 L347.9 114.5 L348.5 113.6 L349.2 112.7 L349.9 111.8 L350.6 111.0 L351.3 110.1 L352.0 109.2 L352.7 108.4 L353.3 107.5 L354.0 106.6 L354.7 105.8 L355.4 104.9 L356.1 104.1 L356.8 103.3 L357.5 102.4 L358.1 101.6 L358.8 100.8 L359.5 99.9 L360.2 99.1 L360.9 98.3 L361.6 97.5 L362.2 96.7 L362.9 95.9 L363.6 95.1 L364.3 94.2 L365.0 93.4 L365.7 92.6 L366.4 91.9 L367.0 91.1 L367.7 90.3 L368.4 89.5 L369.1 88.7 L369.8 87.9 L370.5 87.1 L371.2 86.3 L371.8 85.6 L372.5 84.8 L373.2 84.0 L373.9 83.3 L374.6 82.5 L375.3 81.7 L376.0 80.9 L376.6 80.2 L377.3 79.4 L378.0 78.7 L378.7 77.9 L379.4 77.1 L380.1 76.4 L380.8 75.6 L381.4 74.9 L382.1 74.1 L382.8 73.4 L383.5 72.6 L384.2 71.9 L384.9 71.2 L385.6 70.4 L386.2 69.7 L386.9 68.9 L387.6 68.2 L388.3 67.4 L389.0 66.7 L389.7 66.0 L390.3 65.2 L391.0 64.5 L391.7 63.8 L392.4 63.0 L393.1 62.3 L393.8 61.6 L394.5 60.9 L395.1 60.1 L395.8 59.4 L396.5 58.7 L397.2 58.0 L397.9 57.2 L398.6 56.5 L399.3 55.8 L399.9 55.1 L400.6 54.4 L401.3 53.6 L402.0 52.9 M60.0 144.4 L60.7 144.4 L61.4 144.4 L62.1 144.4 L62.7 144.4 L63.4 144.4 L64.1 144.4 L64.8 144.4 L65.5 144.4 L66.2 144.4 L66.9 144.4 L67.5 144.4 L68.2 144.4 L68.9 144.4 L69.6 144.4 L70.3 144.4 L71.0 144.4 L71.7 144.4 L72.3 144.4 L73.0 144.4 L73.7 144.4 L74.4 144.4 L75.1 144.3 L75.8 144.3 L76.4 144.3 L77.1 144.3 L77.8 144.3 L78.5 144.3 L79.2 144.3 L79.9 144.3 L80.6 144.3 L81.2 144.3 L81.9 144.3 L82.6 144.3 L83.3 144.3 L84.0 144.3 L84.7 144.3 L85.4 144.3 L86.0 144.3 L86.7 144.3 L87.4 144.3 L88.1 144.3 L88.8 144.3 L89.5 144.3 L90.2 144.3 L90.8 144.2 L91.5 144.2 L92.2 144.2 L92.9 144.2 L93.6 144.2 L94.3 144.2 L95.0 144.2 L95.6 144.2 L96.3 144.2 L97.0 144.2 L97.7 144.2 L98.4 144.2 L99.1 144.2 L99.8 144.2 L100.4 144.2 L101.1 144.2 L101.8 144.1 L102.5 144.1 L103.2 144.1 L103.9 144.1 L104.5 144.1 L105.2 144.1 L105.9 144.1 L106.6 144.1 L107.3 144.1 L108.0 144.1 L108.7 144.1 L109.3 144.1 L110.0 144.1 L110.7 144.0 L111.4 144.0 L112.1 144.0 L112.8 144.0 L113.5 144.0 L114.1 144.0 L114.8 144.0 L115.5 144.0 L116.2 144.0 L116.9 144.0 L117.6 143.9 L118.3 143.9 L118.9 143.9 L119.6 143.9 L120.3 143.9 L121.0 143.9 L121.7 143.9 L122.4 143.9 L123.1 143.8 L123.7 143.8 L124.4 143.8 L125.1 143.8 L125.8 143.8 L126.5 143.8 L127.2 143.8 L127.9 143.8 L128.5 143.7 L129.2 143.7 L129.9 143.7 L130.6 143.7 L131.3 143.7 L132.0 143.7 L132.6 143.6 L133.3 143.6 L134.0 143.6 L134.7 143.6 L135.4 143.6 L136.1 143.6 L136.8 143.5 L137.4 143.5 L138.1 143.5 L138.8 143.5 L139.5 143.5 L140.2 143.4 L140.9 143.4 L141.6 143.4 L142.2 143.4 L142.9 143.4 L143.6 143.3 L144.3 143.3 L145.0 143.3 L145.7 143.3 L146.4 143.2 L147.0 143.2 L147.7 143.2 L148.4 143.2 L149.1 143.1 L149.8 143.1 L150.5 143.1 L151.2 143.1 L151.8 143.0 L152.5 143.0 L153.2 143.0 L153.9 143.0 L154.6 142.9 L155.3 142.9 L156.0 142.9 L156.6 142.8 L157.3 142.8 L158.0 142.8 L158.7 142.7 L159.4 142.7 L160.1 142.7 L160.7 142.6 L161.4 142.6 L162.1 142.6 L162.8 142.5 L163.5 142.5 L164.2 142.5 L164.9 142.4 L165.5 142.4 L166.2 142.3 L166.9 142.3 L167.6 142.3 L168.3 142.2 L169.0 142.2 L169.7 142.1 L170.3 142.1 L171.0 142.0 L171.7 142.0 L172.4 142.0 L173.1 141.9 L173.8 141.9 L174.5 141.8 L175.1 141.8 L175.8 141.7 L176.5 141.7 L177.2 141.6 L177.9 141.5 L178.6 141.5 L179.3 141.4 L179.9 141.4 L180.6 141.3 L181.3 141.3 L182.0 141.2 L182.7 141.1 L183.4 141.1 L184.1 141.0 L184.7 141.0 L185.4 140.9 L186.1 140.8 L186.8 140.8 L187.5 140.7 L188.2 140.6 L188.8 140.5 L189.5 140.5 L190.2 140.4 L190.9 140.3 L191.6 140.2 L192.3 140.2 L193.0 140.1 L193.6 140.0 L194.3 139.9 L195.0 139.8 L195.7 139.8 L196.4 139.7 L197.1 139.6 L197.8 139.5 L198.4 139.4 L199.1 139.3 L199.8 139.2 L200.5 139.1 L201.2 139.0 L201.9 138.9 L202.6 138.8 L203.2 138.7 L203.9 138.6 L204.6 138.5 L205.3 138.4 L206.0 138.3 L206.7 138.2 L207.4 138.1 L208.0 137.9 L208.7 137.8 L209.4 137.7 L210.1 137.6 L210.8 137.5 L211.5 137.3 L212.2 137.2 L212.8 137.1 L213.5 137.0 L214.2 136.8 L214.9 136.7 L215.6 136.5 L216.3 136.4 L216.9 136.3 L217.6 136.1 L218.3 136.0 L219.0 135.8 L219.7 135.7 L220.4 135.5 L221.1 135.4 L221.7 135.2 L222.4 135.0 L223.1 134.9 L223.8 134.7 L224.5 134.5 L225.2 134.4 L225.9 134.2 L226.5 134.0 L227.2 133.8 L227.9 133.6 L228.6 133.5 L229.3 133.3 L230.0 133.1 L230.7 132.9 L231.3 132.7 L232.0 132.5 L232.7 132.3 L233.4 132.1 L234.1 131.9 L234.8 131.7 L235.5 131.5 L236.1 131.2 L236.8 131.0 L237.5 130.8 L238.2 130.6 L238.9 130.4 L239.6 130.1 L240.3 129.9 L240.9 129.7 L241.6 129.4 L242.3 129.2 L243.0 128.9 L243.7 128.7 L244.4 128.4 L245.1 128.2 L245.7 127.9 L246.4 127.6 L247.1 127.4 L247.8 127.1 L248.5 126.8 L249.2 126.6 L249.8 126.3 L250.5 126.0 L251.2 125.7 L251.9 125.4 L252.6 125.1 L253.3 124.8 L254.0 124.5 L254.6 124.2 L255.3 123.9 L256.0 123.6 L256.7 123.3 L257.4 123.0 L258.1 122.7 L258.8 122.4 L259.4 122.0 L260.1 121.7 L260.8 121.4 L261.5 121.1 L262.2 120.7 L262.9 120.4 L263.6 120.0 L264.2 119.7 L264.9 119.3 L265.6 119.0 L266.3 118.6 L267.0 118.3 L267.7 117.9 L268.4 117.5 L269.0 117.2 L269.7 116.8 L270.4 116.4 L271.1 116.0 L271.8 115.6 L272.5 115.3 L273.2 114.9 L273.8 114.5 L274.5 114.1 L275.2 113.7 L275.9 113.3 L276.6 112.9 L277.3 112.5 L277.9 112.0 L278.6 111.6 L279.3 111.2 L280.0 110.8 L280.7 110.4 L281.4 109.9 L282.1 109.5 L282.7 109.1 L283.4 108.6 L284.1 108.2 L284.8 107.7 L285.5 107.3 L286.2 106.8 L286.9 106.4 L287.5 105.9 L288.2 105.5 L288.9 105.0 L289.6 104.5 L290.3 104.1 L291.0 103.6 L291.7 103.1 L292.3 102.7 L293.0 102.2 L293.7 101.7 L294.4 101.2 L295.1 100.7 L295.8 100.2 L296.5 99.7 L297.1 99.2 L297.8 98.7 L298.5 98.2 L299.2 97.7 L299.9 97.2 L300.6 96.7 L301.3 96.2 L301.9 95.7 L302.6 95.2 L303.3 94.7 L304.0 94.2 L304.7 93.6 L305.4 93.1 L306.0 92.6 L306.7 92.0 L307.4 91.5 L308.1 91.0 L308.8 90.4 L309.5 89.9 L310.2 89.4 L310.8 88.8 L311.5 88.3 L312.2 87.7 L312.9 87.2 L313.6 86.6 L314.3 86.1 L315.0 85.5 L315.6 85.0 L316.3 84.4 L317.0 83.8 L317.7 83.3 L318.4 82.7 L319.1 82.1 L319.8 81.6 L320.4 81.0 L321.1 80.4 L321.8 79.8 L322.5 79.3 L323.2 78.7 L323.9 78.1 L324.6 77.5 L325.2 76.9 L325.9 76.4 L326.6 75.8 L327.3 75.2 L328.0 74.6 L328.7 74.0 L329.4 73.4 L330.0 72.8 L330.7 72.2 L331.4 71.6 L332.1 71.0 L332.8 70.4 L333.5 69.8 L334.1 69.2 L334.8 68.6 L335.5 68.0 L336.2 67.4 L336.9 66.8 L337.6 66.2 L338.3 65.6 L338.9 64.9 L339.6 64.3 L340.3 63.7 L341.0 63.1 L341.7 62.5 L342.4 61.9 L343.1 61.2 L343.7 60.6 L344.4 60.0 L345.1 59.4 L345.8 58.8 L346.5 58.1 L347.2 57.5 L347.9 56.9 L348.5 56.2 L349.2 55.6 L349.9 55.0 L350.6 54.4 L351.3 53.7 L352.0 53.1 L352.7 52.5 L353.3 51.8 L354.0 51.2 L354.7 50.5 L355.4 49.9 L356.1 49.3 L356.8 48.6 L357.5 48.0 L358.1 47.3 L358.8 46.7 L359.5 46.1 L360.2 45.4 L360.9 44.8 L361.6 44.1 L362.2 43.5 L362.9 42.8 L363.6 42.2 L364.3 41.5 L365.0 40.9 L365.7 40.2 L366.4 39.6 L367.0 38.9 L367.7 38.3 L368.4 37.6 L369.1 37.0 L369.8 36.3 L370.5 35.7 L371.2 35.0 L371.8 34.4 L372.5 33.7 L373.2 33.0 L373.9 32.4 L374.6 31.7 L375.3 31.1 L376.0 30.4 L376.6 29.7 L377.3 29.1 L378.0 28.4 L378.7 27.8 L379.4 27.1 L380.1 26.4 L380.8 25.8 L381.4 25.1 L382.1 24.5 L382.8 23.8 L383.5 23.1 L384.2 22.5 L384.9 21.8 L385.6 21.1 L386.2 20.5 L386.9 19.8 L387.6 19.1 L388.3 18.5 L389.0 17.8 L389.7 17.1 L390.3 16.5 L391.0 15.8 L391.7 15.1 L392.4 14.4 L393.1 13.8 L393.8 13.1 L394.5 12.4 L395.1 11.8 L395.8 11.1 L396.5 10.4 L397.2 9.7 L397.9 9.1 L398.6 8.4 L399.3 7.7 L399.9 7.0 L400.6 6.4 L401.3 5.7 L402.0 5.0" fill="none" stroke="#a020f0" stroke-width="1.25"/>
<path d="M3.90 73.10 l36.90 36.90 M18.90 73.10 l36.90 36.90 M33.90 73.10 l36.90 36.90 M48.90 73.10 l36.90 36.90 M63.90 73.10 l36.90 36.90 M78.90 73.10 l36.90 36.90 M93.90 73.10 l36.90 36.90 M108.90 73.10 l36.90 36.90 M123.90 73.10 l36.90 36.90 M138.90 73.10 l36.90 36.90 M153.90 73.10 l36.90 36.90 M168.90 73.10 l36.90 36.90 M183.90 73.10 l36.90 36.90 M198.90 73.10 l36.90 36.90 M213.90 73.10 l36.90 36.90 M228.90 73.10 l36.90 36.90 M243.90 73.10 l36.90 36.90 M258.90 73.10 l36.90 36.90 M273.90 73.10 l36.90 36.90 M288.90 73.10 l36.90 36.90 M303.90 73.10 l36.90 36.90 M318.90 73.10 l36.90 36.90 M333.90 73.10 l36.90 36.90 M348.90 73.10 l36.90 36.90 M363.90 73.10 l36.90 36.90 M378.90 73.10 l36.90 36.90 M393.90 73.10 l36.90 36.90" stroke="#ff0000" stroke-width="0.8" fill="none"/>
<path d="M60.4 73.10 H402.0 M60.4 110.00 H402.0" stroke="#ff0000" stroke-width="0.85" fill="none"/>
</g>
<path d="M60.40 348.2 v-7.0 M60.40 6.0 v7.0 M60.4 348.20 h7.0 M402.0 348.20 h-7.0 M86.11 348.2 v-3.8 M86.11 6.0 v3.8 M60.4 322.45 h3.8 M402.0 322.45 h-3.8 M101.15 348.2 v-3.8 M101.15 6.0 v3.8 M60.4 307.38 h3.8 M402.0 307.38 h-3.8 M111.82 348.2 v-3.8 M111.82 6.0 v3.8 M60.4 296.69 h3.8 M402.0 296.69 h-3.8 M120.09 348.2 v-3.8 M120.09 6.0 v3.8 M60.4 288.40 h3.8 M402.0 288.40 h-3.8 M126.85 348.2 v-3.8 M126.85 6.0 v3.8 M60.4 281.63 h3.8 M402.0 281.63 h-3.8 M132.57 348.2 v-3.8 M132.57 6.0 v3.8 M60.4 275.90 h3.8 M402.0 275.90 h-3.8 M137.52 348.2 v-3.8 M137.52 6.0 v3.8 M60.4 270.94 h3.8 M402.0 270.94 h-3.8 M141.89 348.2 v-3.8 M141.89 6.0 v3.8 M60.4 266.56 h3.8 M402.0 266.56 h-3.8 M145.80 348.2 v-7.0 M145.80 6.0 v7.0 M60.4 262.65 h7.0 M402.0 262.65 h-7.0 M171.51 348.2 v-3.8 M171.51 6.0 v3.8 M60.4 236.90 h3.8 M402.0 236.90 h-3.8 M186.55 348.2 v-3.8 M186.55 6.0 v3.8 M60.4 221.83 h3.8 M402.0 221.83 h-3.8 M197.22 348.2 v-3.8 M197.22 6.0 v3.8 M60.4 211.14 h3.8 M402.0 211.14 h-3.8 M205.49 348.2 v-3.8 M205.49 6.0 v3.8 M60.4 202.85 h3.8 M402.0 202.85 h-3.8 M212.25 348.2 v-3.8 M212.25 6.0 v3.8 M60.4 196.08 h3.8 M402.0 196.08 h-3.8 M217.97 348.2 v-3.8 M217.97 6.0 v3.8 M60.4 190.35 h3.8 M402.0 190.35 h-3.8 M222.92 348.2 v-3.8 M222.92 6.0 v3.8 M60.4 185.39 h3.8 M402.0 185.39 h-3.8 M227.29 348.2 v-3.8 M227.29 6.0 v3.8 M60.4 181.01 h3.8 M402.0 181.01 h-3.8 M231.20 348.2 v-7.0 M231.20 6.0 v7.0 M60.4 177.10 h7.0 M402.0 177.10 h-7.0 M256.91 348.2 v-3.8 M256.91 6.0 v3.8 M60.4 151.35 h3.8 M402.0 151.35 h-3.8 M271.95 348.2 v-3.8 M271.95 6.0 v3.8 M60.4 136.28 h3.8 M402.0 136.28 h-3.8 M282.62 348.2 v-3.8 M282.62 6.0 v3.8 M60.4 125.59 h3.8 M402.0 125.59 h-3.8 M290.89 348.2 v-3.8 M290.89 6.0 v3.8 M60.4 117.30 h3.8 M402.0 117.30 h-3.8 M297.65 348.2 v-3.8 M297.65 6.0 v3.8 M60.4 110.53 h3.8 M402.0 110.53 h-3.8 M303.37 348.2 v-3.8 M303.37 6.0 v3.8 M60.4 104.80 h3.8 M402.0 104.80 h-3.8 M308.32 348.2 v-3.8 M308.32 6.0 v3.8 M60.4 99.84 h3.8 M402.0 99.84 h-3.8 M312.69 348.2 v-3.8 M312.69 6.0 v3.8 M60.4 95.46 h3.8 M402.0 95.46 h-3.8 M316.60 348.2 v-7.0 M316.60 6.0 v7.0 M60.4 91.55 h7.0 M402.0 91.55 h-7.0 M342.31 348.2 v-3.8 M342.31 6.0 v3.8 M60.4 65.80 h3.8 M402.0 65.80 h-3.8 M357.35 348.2 v-3.8 M357.35 6.0 v3.8 M60.4 50.73 h3.8 M402.0 50.73 h-3.8 M368.02 348.2 v-3.8 M368.02 6.0 v3.8 M60.4 40.04 h3.8 M402.0 40.04 h-3.8 M376.29 348.2 v-3.8 M376.29 6.0 v3.8 M60.4 31.75 h3.8 M402.0 31.75 h-3.8 M383.05 348.2 v-3.8 M383.05 6.0 v3.8 M60.4 24.98 h3.8 M402.0 24.98 h-3.8 M388.77 348.2 v-3.8 M388.77 6.0 v3.8 M60.4 19.25 h3.8 M402.0 19.25 h-3.8 M393.72 348.2 v-3.8 M393.72 6.0 v3.8 M60.4 14.29 h3.8 M402.0 14.29 h-3.8 M398.09 348.2 v-3.8 M398.09 6.0 v3.8 M60.4 9.91 h3.8 M402.0 9.91 h-3.8 M402.00 348.2 v-7.0 M402.00 6.0 v7.0 M60.4 6.00 h7.0 M402.0 6.00 h-7.0" stroke="#000" stroke-width="1" fill="none"/>
<rect x="60.4" y="6.0" width="341.6" height="342.2" fill="none" stroke="#000" stroke-width="1.05"/>
<rect x="60.4" y="6.0" width="120.19999999999999" height="55.4" fill="#fff" stroke="#000" stroke-width="1.1"/>
<path d="M69.7 33.6 h22.7" stroke="#1e90ff" stroke-width="2.2" fill="none"/>
<path d="M69.7 47.5 h22.7" stroke="#a020f0" stroke-width="2.2" fill="none"/>
<g clip-path="url(#clipb)">
<defs><path id="p4b" d="M485.6 105.6 L486.3 105.6 L487.0 105.6 L487.7 105.6 L488.3 105.6 L489.0 105.6 L489.7 105.6 L490.4 105.6 L491.1 105.6 L491.8 105.6 L492.4 105.6 L493.1 105.6 L493.8 105.6 L494.5 105.6 L495.2 105.6 L495.9 105.6 L496.5 105.6 L497.2 105.6 L497.9 105.6 L498.6 105.6 L499.3 105.6 L500.0 105.6 L500.7 105.6 L501.3 105.6 L502.0 105.6 L502.7 105.6 L503.4 105.6 L504.1 105.6 L504.8 105.6 L505.4 105.6 L506.1 105.6 L506.8 105.6 L507.5 105.6 L508.2 105.6 L508.9 105.6 L509.6 105.6 L510.2 105.5 L510.9 105.5 L511.6 105.5 L512.3 105.5 L513.0 105.5 L513.7 105.5 L514.3 105.5 L515.0 105.5 L515.7 105.5 L516.4 105.5 L517.1 105.5 L517.8 105.5 L518.4 105.5 L519.1 105.5 L519.8 105.5 L520.5 105.5 L521.2 105.5 L521.9 105.5 L522.6 105.5 L523.2 105.5 L523.9 105.5 L524.6 105.5 L525.3 105.5 L526.0 105.5 L526.7 105.5 L527.3 105.5 L528.0 105.5 L528.7 105.5 L529.4 105.5 L530.1 105.5 L530.8 105.5 L531.5 105.5 L532.1 105.5 L532.8 105.5 L533.5 105.5 L534.2 105.5 L534.9 105.5 L535.6 105.5 L536.2 105.5 L536.9 105.5 L537.6 105.5 L538.3 105.5 L539.0 105.5 L539.7 105.5 L540.3 105.5 L541.0 105.5 L541.7 105.5 L542.4 105.5 L543.1 105.5 L543.8 105.5 L544.5 105.5 L545.1 105.5 L545.8 105.5 L546.5 105.5 L547.2 105.5 L547.9 105.5 L548.6 105.5 L549.2 105.5 L549.9 105.5 L550.6 105.5 L551.3 105.5 L552.0 105.5 L552.7 105.5 L553.4 105.5 L554.0 105.5 L554.7 105.5 L555.4 105.5 L556.1 105.5 L556.8 105.5 L557.5 105.5 L558.1 105.5 L558.8 105.5 L559.5 105.5 L560.2 105.5 L560.9 105.5 L561.6 105.5 L562.2 105.5 L562.9 105.5 L563.6 105.5 L564.3 105.5 L565.0 105.5 L565.7 105.5 L566.4 105.5 L567.0 105.5 L567.7 105.5 L568.4 105.5 L569.1 105.5 L569.8 105.5 L570.5 105.5 L571.1 105.5 L571.8 105.5 L572.5 105.5 L573.2 105.5 L573.9 105.5 L574.6 105.5 L575.3 105.5 L575.9 105.5 L576.6 105.5 L577.3 105.5 L578.0 105.5 L578.7 105.5 L579.4 105.5 L580.0 105.5 L580.7 105.5 L581.4 105.5 L582.1 105.5 L582.8 105.5 L583.5 105.5 L584.1 105.5 L584.8 105.5 L585.5 105.5 L586.2 105.5 L586.9 105.5 L587.6 105.5 L588.3 105.5 L588.9 105.5 L589.6 105.5 L590.3 105.5 L591.0 105.5 L591.7 105.5 L592.4 105.5 L593.0 105.5 L593.7 105.5 L594.4 105.5 L595.1 105.5 L595.8 105.5 L596.5 105.5 L597.2 105.5 L597.8 105.5 L598.5 105.5 L599.2 105.5 L599.9 105.5 L600.6 105.5 L601.3 105.5 L601.9 105.5 L602.6 105.5 L603.3 105.5 L604.0 105.5 L604.7 105.5 L605.4 105.5 L606.0 105.5 L606.7 105.5 L607.4 105.5 L608.1 105.4 L608.8 105.4 L609.5 105.4 L610.2 105.4 L610.8 105.4 L611.5 105.4 L612.2 105.4 L612.9 105.4 L613.6 105.4 L614.3 105.4 L614.9 105.4 L615.6 105.4 L616.3 105.4 L617.0 105.4 L617.7 105.4 L618.4 105.4 L619.1 105.4 L619.7 105.4 L620.4 105.4 L621.1 105.4 L621.8 105.4 L622.5 105.4 L623.2 105.4 L623.8 105.4 L624.5 105.4 L625.2 105.3 L625.9 105.3 L626.6 105.3 L627.3 105.3 L627.9 105.3 L628.6 105.3 L629.3 105.3 L630.0 105.3 L630.7 105.3 L631.4 105.3 L632.1 105.3 L632.7 105.3 L633.4 105.3 L634.1 105.3 L634.8 105.3 L635.5 105.2 L636.2 105.2 L636.8 105.2 L637.5 105.2 L638.2 105.2 L638.9 105.2 L639.6 105.2 L640.3 105.2 L641.0 105.2 L641.6 105.2 L642.3 105.1 L643.0 105.1 L643.7 105.1 L644.4 105.1 L645.1 105.1 L645.7 105.1 L646.4 105.1 L647.1 105.0 L647.8 105.0 L648.5 105.0 L649.2 105.0 L649.8 105.0 L650.5 105.0 L651.2 104.9 L651.9 104.9 L652.6 104.9 L653.3 104.9 L654.0 104.9 L654.6 104.8 L655.3 104.8 L656.0 104.8 L656.7 104.8 L657.4 104.8 L658.1 104.7 L658.7 104.7 L659.4 104.7 L660.1 104.7 L660.8 104.6 L661.5 104.6 L662.2 104.6 L662.9 104.5 L663.5 104.5 L664.2 104.5 L664.9 104.4 L665.6 104.4 L666.3 104.4 L667.0 104.3 L667.6 104.3 L668.3 104.2 L669.0 104.2 L669.7 104.2 L670.4 104.1 L671.1 104.1 L671.7 104.0 L672.4 104.0 L673.1 103.9 L673.8 103.9 L674.5 103.8 L675.2 103.8 L675.9 103.7 L676.5 103.6 L677.2 103.6 L677.9 103.5 L678.6 103.5 L679.3 103.4 L680.0 103.3 L680.6 103.3 L681.3 103.2 L682.0 103.1 L682.7 103.0 L683.4 102.9 L684.1 102.9 L684.8 102.8 L685.4 102.7 L686.1 102.6 L686.8 102.5 L687.5 102.4 L688.2 102.3 L688.9 102.2 L689.5 102.1 L690.2 102.0 L690.9 101.9 L691.6 101.8 L692.3 101.7 L693.0 101.5 L693.6 101.4 L694.3 101.3 L695.0 101.2 L695.7 101.0 L696.4 100.9 L697.1 100.7 L697.8 100.6 L698.4 100.4 L699.1 100.3 L699.8 100.1 L700.5 100.0 L701.2 99.8 L701.9 99.6 L702.5 99.5 L703.2 99.3 L703.9 99.1 L704.6 98.9 L705.3 98.7 L706.0 98.5 L706.7 98.3 L707.3 98.1 L708.0 97.9 L708.7 97.7 L709.4 97.4 L710.1 97.2 L710.8 97.0 L711.4 96.7 L712.1 96.5 L712.8 96.2 L713.5 96.0 L714.2 95.7 L714.9 95.5 L715.5 95.2 L716.2 94.9 L716.9 94.6 L717.6 94.4 L718.3 94.1 L719.0 93.8 L719.7 93.5 L720.3 93.2 L721.0 92.8 L721.7 92.5 L722.4 92.2 L723.1 91.9 L723.8 91.5 L724.4 91.2 L725.1 90.8 L725.8 90.5 L726.5 90.1 L727.2 89.8 L727.9 89.4 L728.6 89.0 L729.2 88.6 L729.9 88.3 L730.6 87.9 L731.3 87.5 L732.0 87.1 L732.7 86.7 L733.3 86.2 L734.0 85.8 L734.7 85.4 L735.4 85.0 L736.1 84.6 L736.8 84.1 L737.4 83.7 L738.1 83.2 L738.8 82.8 L739.5 82.3 L740.2 81.9 L740.9 81.4 L741.6 80.9 L742.2 80.5 L742.9 80.0 L743.6 79.5 L744.3 79.0 L745.0 78.5 L745.7 78.0 L746.3 77.5 L747.0 77.0 L747.7 76.5 L748.4 76.0 L749.1 75.5 L749.8 75.0 L750.5 74.5 L751.1 73.9 L751.8 73.4 L752.5 72.9 L753.2 72.4 L753.9 71.8 L754.6 71.3 L755.2 70.7 L755.9 70.2 L756.6 69.6 L757.3 69.1 L758.0 68.5 L758.7 68.0 L759.3 67.4 L760.0 66.8 L760.7 66.3 L761.4 65.7 L762.1 65.1 L762.8 64.6 L763.5 64.0 L764.1 63.4 L764.8 62.8 L765.5 62.2 L766.2 61.6 L766.9 61.1 L767.6 60.5 L768.2 59.9 L768.9 59.3 L769.6 58.7 L770.3 58.1 L771.0 57.5 L771.7 56.9 L772.4 56.3 L773.0 55.7 L773.7 55.1 L774.4 54.4 L775.1 53.8 L775.8 53.2 L776.5 52.6 L777.1 52.0 L777.8 51.4 L778.5 50.7 L779.2 50.1 L779.9 49.5 L780.6 48.9 L781.2 48.3 L781.9 47.6 L782.6 47.0 L783.3 46.4 L784.0 45.7 L784.7 45.1 L785.4 44.5 L786.0 43.8 L786.7 43.2 L787.4 42.6 L788.1 41.9 L788.8 41.3 L789.5 40.6 L790.1 40.0 L790.8 39.4 L791.5 38.7 L792.2 38.1 L792.9 37.4 L793.6 36.8 L794.3 36.1 L794.9 35.5 L795.6 34.8 L796.3 34.2 L797.0 33.5 L797.7 32.9 L798.4 32.2 L799.0 31.6 L799.7 30.9 L800.4 30.3 L801.1 29.6 L801.8 29.0 L802.5 28.3 L803.1 27.7 L803.8 27.0 L804.5 26.3 L805.2 25.7 L805.9 25.0 L806.6 24.4 L807.3 23.7 L807.9 23.0 L808.6 22.4 L809.3 21.7 L810.0 21.0 L810.7 20.4 L811.4 19.7 L812.0 19.1 L812.7 18.4 L813.4 17.7 L814.1 17.1 L814.8 16.4 L815.5 15.7 L816.2 15.0 L816.8 14.4 L817.5 13.7 L818.2 13.0 L818.9 12.4 L819.6 11.7 L820.3 11.0 L820.9 10.4 L821.6 9.7 L822.3 9.0 L823.0 8.3 L823.7 7.7 L824.4 7.0 L825.0 6.3 L825.7 5.7 L826.4 5.5 L827.1 5.5 L827.1 51.5 L826.4 52.2 L825.7 52.9 L825.0 53.6 L824.4 54.4 L823.7 55.1 L823.0 55.8 L822.3 56.5 L821.6 57.3 L820.9 58.0 L820.3 58.7 L819.6 59.4 L818.9 60.2 L818.2 60.9 L817.5 61.6 L816.8 62.3 L816.2 63.1 L815.5 63.8 L814.8 64.5 L814.1 65.3 L813.4 66.0 L812.7 66.7 L812.0 67.5 L811.4 68.2 L810.7 69.0 L810.0 69.7 L809.3 70.4 L808.6 71.2 L807.9 71.9 L807.3 72.7 L806.6 73.4 L805.9 74.2 L805.2 74.9 L804.5 75.7 L803.8 76.4 L803.1 77.2 L802.5 77.9 L801.8 78.7 L801.1 79.5 L800.4 80.2 L799.7 81.0 L799.0 81.7 L798.4 82.5 L797.7 83.3 L797.0 84.1 L796.3 84.8 L795.6 85.6 L794.9 86.4 L794.3 87.1 L793.6 87.9 L792.9 88.7 L792.2 89.5 L791.5 90.3 L790.8 91.1 L790.1 91.8 L789.5 92.6 L788.8 93.4 L788.1 94.2 L787.4 95.0 L786.7 95.8 L786.0 96.6 L785.4 97.4 L784.7 98.2 L784.0 99.0 L783.3 99.8 L782.6 100.6 L781.9 101.5 L781.2 102.3 L780.6 103.1 L779.9 103.9 L779.2 104.7 L778.5 105.6 L777.8 106.4 L777.1 107.2 L776.5 108.1 L775.8 108.9 L775.1 109.8 L774.4 110.6 L773.7 111.5 L773.0 112.3 L772.4 113.2 L771.7 114.0 L771.0 114.9 L770.3 115.7 L769.6 116.6 L768.9 117.5 L768.2 118.4 L767.6 119.2 L766.9 120.1 L766.2 121.0 L765.5 121.9 L764.8 122.8 L764.1 123.7 L763.5 124.6 L762.8 125.5 L762.1 126.4 L761.4 127.3 L760.7 128.3 L760.0 129.2 L759.3 130.1 L758.7 131.1 L758.0 132.0 L757.3 132.9 L756.6 133.9 L755.9 134.8 L755.2 135.8 L754.6 136.8 L753.9 137.7 L753.2 138.7 L752.5 139.7 L751.8 140.7 L751.1 141.7 L750.5 142.7 L749.8 143.7 L749.1 144.7 L748.4 145.7 L747.7 146.7 L747.0 147.8 L746.3 148.8 L745.7 149.8 L745.0 150.9 L744.3 151.9 L743.6 153.0 L742.9 154.1 L742.2 155.1 L741.6 156.2 L740.9 157.3 L740.2 158.4 L739.5 159.5 L738.8 160.7 L738.1 161.8 L737.4 162.9 L736.8 164.1 L736.1 165.2 L735.4 166.4 L734.7 167.5 L734.0 168.7 L733.3 169.9 L732.7 171.1 L732.0 172.3 L731.3 173.5 L730.6 174.8 L729.9 176.0 L729.2 177.3 L728.6 178.5 L727.9 179.8 L727.2 181.1 L726.5 182.4 L725.8 183.7 L725.1 185.0 L724.4 186.4 L723.8 187.7 L723.1 189.1 L722.4 190.5 L721.7 191.9 L721.0 193.3 L720.3 194.7 L719.7 196.1 L719.0 197.6 L718.3 199.1 L717.6 200.6 L716.9 202.1 L716.2 203.6 L715.5 205.2 L714.9 206.8 L714.2 208.4 L713.5 210.0 L712.8 211.6 L712.1 213.3 L711.4 215.0 L710.8 216.7 L710.1 218.5 L709.4 220.3 L708.7 222.1 L708.0 223.9 L707.3 225.8 L706.7 227.8 L706.0 229.7 L705.3 231.8 L704.6 233.8 L703.9 236.0 L703.2 238.1 L702.5 240.4 L701.9 242.7 L701.2 245.0 L700.5 247.5 L699.8 250.0 L699.1 252.7 L698.4 255.4 L697.8 258.2 L697.1 261.2 L696.4 264.4 L695.7 267.6 L695.0 271.1 L694.3 274.9 L693.6 278.8 L693.0 283.1 L692.3 287.8 L691.6 293.0 L690.9 298.8 L690.2 305.4 L689.5 313.1 L688.9 322.4 L688.2 334.4 L687.5 348.0 L686.8 348.0 L686.1 348.0 L685.4 348.0 L684.8 348.0 L684.1 348.0 L683.4 348.0 L682.7 348.0 L682.0 348.0 L681.3 348.0 L680.6 348.0 L680.0 348.0 L679.3 348.0 L678.6 348.0 L677.9 348.0 L677.2 348.0 L676.5 348.0 L675.9 348.0 L675.2 348.0 L674.5 348.0 L673.8 348.0 L673.1 348.0 L672.4 348.0 L671.7 348.0 L671.1 348.0 L670.4 348.0 L669.7 348.0 L669.0 348.0 L668.3 348.0 L667.6 348.0 L667.0 348.0 L666.3 348.0 L665.6 348.0 L664.9 348.0 L664.2 348.0 L663.5 348.0 L662.9 348.0 L662.2 348.0 L661.5 348.0 L660.8 348.0 L660.1 348.0 L659.4 348.0 L658.7 348.0 L658.1 348.0 L657.4 348.0 L656.7 348.0 L656.0 348.0 L655.3 348.0 L654.6 348.0 L654.0 348.0 L653.3 348.0 L652.6 348.0 L651.9 348.0 L651.2 348.0 L650.5 348.0 L649.8 348.0 L649.2 348.0 L648.5 348.0 L647.8 348.0 L647.1 348.0 L646.4 348.0 L645.7 348.0 L645.1 348.0 L644.4 348.0 L643.7 348.0 L643.0 348.0 L642.3 348.0 L641.6 348.0 L641.0 348.0 L640.3 348.0 L639.6 348.0 L638.9 348.0 L638.2 348.0 L637.5 348.0 L636.8 348.0 L636.2 348.0 L635.5 348.0 L634.8 348.0 L634.1 348.0 L633.4 348.0 L632.7 348.0 L632.1 348.0 L631.4 348.0 L630.7 348.0 L630.0 348.0 L629.3 348.0 L628.6 348.0 L627.9 348.0 L627.3 348.0 L626.6 348.0 L625.9 348.0 L625.2 348.0 L624.5 348.0 L623.8 348.0 L623.2 348.0 L622.5 348.0 L621.8 348.0 L621.1 348.0 L620.4 348.0 L619.7 348.0 L619.1 348.0 L618.4 348.0 L617.7 348.0 L617.0 348.0 L616.3 348.0 L615.6 348.0 L614.9 348.0 L614.3 348.0 L613.6 348.0 L612.9 348.0 L612.2 348.0 L611.5 348.0 L610.8 348.0 L610.2 348.0 L609.5 348.0 L608.8 348.0 L608.1 348.0 L607.4 348.0 L606.7 348.0 L606.0 348.0 L605.4 348.0 L604.7 348.0 L604.0 348.0 L603.3 348.0 L602.6 348.0 L601.9 348.0 L601.3 348.0 L600.6 348.0 L599.9 348.0 L599.2 348.0 L598.5 348.0 L597.8 348.0 L597.2 348.0 L596.5 348.0 L595.8 348.0 L595.1 348.0 L594.4 348.0 L593.7 348.0 L593.0 348.0 L592.4 348.0 L591.7 348.0 L591.0 348.0 L590.3 348.0 L589.6 348.0 L588.9 348.0 L588.3 348.0 L587.6 348.0 L586.9 348.0 L586.2 348.0 L585.5 348.0 L584.8 348.0 L584.1 348.0 L583.5 348.0 L582.8 348.0 L582.1 348.0 L581.4 348.0 L580.7 348.0 L580.0 348.0 L579.4 348.0 L578.7 348.0 L578.0 348.0 L577.3 348.0 L576.6 348.0 L575.9 348.0 L575.3 348.0 L574.6 348.0 L573.9 348.0 L573.2 348.0 L572.5 348.0 L571.8 348.0 L571.1 348.0 L570.5 348.0 L569.8 348.0 L569.1 348.0 L568.4 348.0 L567.7 348.0 L567.0 348.0 L566.4 348.0 L565.7 348.0 L565.0 348.0 L564.3 348.0 L563.6 348.0 L562.9 348.0 L562.2 348.0 L561.6 348.0 L560.9 348.0 L560.2 348.0 L559.5 348.0 L558.8 348.0 L558.1 348.0 L557.5 348.0 L556.8 348.0 L556.1 348.0 L555.4 348.0 L554.7 348.0 L554.0 348.0 L553.4 348.0 L552.7 348.0 L552.0 348.0 L551.3 348.0 L550.6 348.0 L549.9 348.0 L549.2 348.0 L548.6 348.0 L547.9 348.0 L547.2 348.0 L546.5 348.0 L545.8 348.0 L545.1 348.0 L544.5 348.0 L543.8 348.0 L543.1 348.0 L542.4 348.0 L541.7 348.0 L541.0 348.0 L540.3 348.0 L539.7 348.0 L539.0 348.0 L538.3 348.0 L537.6 348.0 L536.9 348.0 L536.2 348.0 L535.6 348.0 L534.9 348.0 L534.2 348.0 L533.5 348.0 L532.8 348.0 L532.1 348.0 L531.5 348.0 L530.8 348.0 L530.1 348.0 L529.4 348.0 L528.7 348.0 L528.0 348.0 L527.3 348.0 L526.7 348.0 L526.0 348.0 L525.3 348.0 L524.6 348.0 L523.9 348.0 L523.2 348.0 L522.6 348.0 L521.9 348.0 L521.2 348.0 L520.5 348.0 L519.8 348.0 L519.1 348.0 L518.4 348.0 L517.8 348.0 L517.1 348.0 L516.4 348.0 L515.7 348.0 L515.0 348.0 L514.3 348.0 L513.7 348.0 L513.0 348.0 L512.3 348.0 L511.6 348.0 L510.9 348.0 L510.2 348.0 L509.6 348.0 L508.9 348.0 L508.2 348.0 L507.5 348.0 L506.8 348.0 L506.1 348.0 L505.4 348.0 L504.8 348.0 L504.1 348.0 L503.4 348.0 L502.7 348.0 L502.0 348.0 L501.3 348.0 L500.7 348.0 L500.0 348.0 L499.3 348.0 L498.6 348.0 L497.9 348.0 L497.2 348.0 L496.5 348.0 L495.9 348.0 L495.2 348.0 L494.5 348.0 L493.8 348.0 L493.1 348.0 L492.4 348.0 L491.8 348.0 L491.1 348.0 L490.4 348.0 L489.7 348.0 L489.0 348.0 L488.3 348.0 L487.7 348.0 L487.0 348.0 L486.3 348.0 L485.6 348.0Z"/><path id="p3b" d="M485.6 117.2 L486.3 117.2 L487.0 117.2 L487.7 117.2 L488.3 117.2 L489.0 117.2 L489.7 117.2 L490.4 117.2 L491.1 117.2 L491.8 117.2 L492.4 117.2 L493.1 117.2 L493.8 117.2 L494.5 117.2 L495.2 117.2 L495.9 117.2 L496.5 117.2 L497.2 117.2 L497.9 117.2 L498.6 117.2 L499.3 117.2 L500.0 117.2 L500.7 117.2 L501.3 117.2 L502.0 117.2 L502.7 117.2 L503.4 117.2 L504.1 117.2 L504.8 117.2 L505.4 117.2 L506.1 117.2 L506.8 117.2 L507.5 117.2 L508.2 117.2 L508.9 117.2 L509.6 117.2 L510.2 117.2 L510.9 117.2 L511.6 117.2 L512.3 117.2 L513.0 117.2 L513.7 117.2 L514.3 117.2 L515.0 117.2 L515.7 117.2 L516.4 117.2 L517.1 117.2 L517.8 117.2 L518.4 117.2 L519.1 117.2 L519.8 117.2 L520.5 117.2 L521.2 117.2 L521.9 117.2 L522.6 117.2 L523.2 117.2 L523.9 117.2 L524.6 117.2 L525.3 117.2 L526.0 117.2 L526.7 117.2 L527.3 117.2 L528.0 117.2 L528.7 117.2 L529.4 117.2 L530.1 117.2 L530.8 117.2 L531.5 117.2 L532.1 117.2 L532.8 117.2 L533.5 117.2 L534.2 117.2 L534.9 117.2 L535.6 117.2 L536.2 117.2 L536.9 117.2 L537.6 117.2 L538.3 117.2 L539.0 117.2 L539.7 117.2 L540.3 117.2 L541.0 117.2 L541.7 117.2 L542.4 117.2 L543.1 117.2 L543.8 117.2 L544.5 117.2 L545.1 117.2 L545.8 117.2 L546.5 117.2 L547.2 117.2 L547.9 117.2 L548.6 117.2 L549.2 117.2 L549.9 117.2 L550.6 117.2 L551.3 117.2 L552.0 117.2 L552.7 117.2 L553.4 117.2 L554.0 117.2 L554.7 117.2 L555.4 117.2 L556.1 117.2 L556.8 117.2 L557.5 117.2 L558.1 117.2 L558.8 117.2 L559.5 117.2 L560.2 117.2 L560.9 117.2 L561.6 117.2 L562.2 117.2 L562.9 117.2 L563.6 117.2 L564.3 117.2 L565.0 117.2 L565.7 117.2 L566.4 117.2 L567.0 117.2 L567.7 117.2 L568.4 117.2 L569.1 117.2 L569.8 117.2 L570.5 117.2 L571.1 117.2 L571.8 117.2 L572.5 117.2 L573.2 117.2 L573.9 117.2 L574.6 117.2 L575.3 117.2 L575.9 117.2 L576.6 117.2 L577.3 117.2 L578.0 117.2 L578.7 117.2 L579.4 117.2 L580.0 117.2 L580.7 117.2 L581.4 117.2 L582.1 117.2 L582.8 117.2 L583.5 117.2 L584.1 117.2 L584.8 117.2 L585.5 117.2 L586.2 117.2 L586.9 117.2 L587.6 117.2 L588.3 117.2 L588.9 117.2 L589.6 117.2 L590.3 117.2 L591.0 117.2 L591.7 117.2 L592.4 117.2 L593.0 117.2 L593.7 117.2 L594.4 117.2 L595.1 117.2 L595.8 117.2 L596.5 117.2 L597.2 117.2 L597.8 117.2 L598.5 117.2 L599.2 117.2 L599.9 117.2 L600.6 117.2 L601.3 117.2 L601.9 117.2 L602.6 117.2 L603.3 117.2 L604.0 117.1 L604.7 117.1 L605.4 117.1 L606.0 117.1 L606.7 117.1 L607.4 117.1 L608.1 117.1 L608.8 117.1 L609.5 117.1 L610.2 117.1 L610.8 117.1 L611.5 117.1 L612.2 117.1 L612.9 117.1 L613.6 117.1 L614.3 117.1 L614.9 117.1 L615.6 117.1 L616.3 117.1 L617.0 117.1 L617.7 117.1 L618.4 117.1 L619.1 117.1 L619.7 117.1 L620.4 117.0 L621.1 117.0 L621.8 117.0 L622.5 117.0 L623.2 117.0 L623.8 117.0 L624.5 117.0 L625.2 117.0 L625.9 117.0 L626.6 117.0 L627.3 117.0 L627.9 117.0 L628.6 117.0 L629.3 116.9 L630.0 116.9 L630.7 116.9 L631.4 116.9 L632.1 116.9 L632.7 116.9 L633.4 116.9 L634.1 116.9 L634.8 116.9 L635.5 116.8 L636.2 116.8 L636.8 116.8 L637.5 116.8 L638.2 116.8 L638.9 116.8 L639.6 116.8 L640.3 116.7 L641.0 116.7 L641.6 116.7 L642.3 116.7 L643.0 116.7 L643.7 116.7 L644.4 116.6 L645.1 116.6 L645.7 116.6 L646.4 116.6 L647.1 116.6 L647.8 116.5 L648.5 116.5 L649.2 116.5 L649.8 116.5 L650.5 116.4 L651.2 116.4 L651.9 116.4 L652.6 116.4 L653.3 116.3 L654.0 116.3 L654.6 116.3 L655.3 116.2 L656.0 116.2 L656.7 116.2 L657.4 116.1 L658.1 116.1 L658.7 116.1 L659.4 116.0 L660.1 116.0 L660.8 115.9 L661.5 115.9 L662.2 115.9 L662.9 115.8 L663.5 115.8 L664.2 115.7 L664.9 115.7 L665.6 115.6 L666.3 115.6 L667.0 115.5 L667.6 115.5 L668.3 115.4 L669.0 115.3 L669.7 115.3 L670.4 115.2 L671.1 115.1 L671.7 115.1 L672.4 115.0 L673.1 114.9 L673.8 114.9 L674.5 114.8 L675.2 114.7 L675.9 114.6 L676.5 114.5 L677.2 114.5 L677.9 114.4 L678.6 114.3 L679.3 114.2 L680.0 114.1 L680.6 114.0 L681.3 113.9 L682.0 113.8 L682.7 113.7 L683.4 113.6 L684.1 113.4 L684.8 113.3 L685.4 113.2 L686.1 113.1 L686.8 113.0 L687.5 112.8 L688.2 112.7 L688.9 112.6 L689.5 112.4 L690.2 112.3 L690.9 112.1 L691.6 112.0 L692.3 111.8 L693.0 111.6 L693.6 111.5 L694.3 111.3 L695.0 111.1 L695.7 111.0 L696.4 110.8 L697.1 110.6 L697.8 110.4 L698.4 110.2 L699.1 110.0 L699.8 109.8 L700.5 109.6 L701.2 109.4 L701.9 109.1 L702.5 108.9 L703.2 108.7 L703.9 108.4 L704.6 108.2 L705.3 107.9 L706.0 107.7 L706.7 107.4 L707.3 107.2 L708.0 106.9 L708.7 106.6 L709.4 106.3 L710.1 106.1 L710.8 105.8 L711.4 105.5 L712.1 105.2 L712.8 104.9 L713.5 104.6 L714.2 104.2 L714.9 103.9 L715.5 103.6 L716.2 103.2 L716.9 102.9 L717.6 102.5 L718.3 102.2 L719.0 101.8 L719.7 101.5 L720.3 101.1 L721.0 100.7 L721.7 100.3 L722.4 99.9 L723.1 99.6 L723.8 99.2 L724.4 98.7 L725.1 98.3 L725.8 97.9 L726.5 97.5 L727.2 97.1 L727.9 96.6 L728.6 96.2 L729.2 95.8 L729.9 95.3 L730.6 94.9 L731.3 94.4 L732.0 93.9 L732.7 93.5 L733.3 93.0 L734.0 92.5 L734.7 92.0 L735.4 91.5 L736.1 91.1 L736.8 90.6 L737.4 90.1 L738.1 89.5 L738.8 89.0 L739.5 88.5 L740.2 88.0 L740.9 87.5 L741.6 86.9 L742.2 86.4 L742.9 85.9 L743.6 85.3 L744.3 84.8 L745.0 84.2 L745.7 83.7 L746.3 83.1 L747.0 82.6 L747.7 82.0 L748.4 81.5 L749.1 80.9 L749.8 80.3 L750.5 79.7 L751.1 79.2 L751.8 78.6 L752.5 78.0 L753.2 77.4 L753.9 76.8 L754.6 76.2 L755.2 75.6 L755.9 75.0 L756.6 74.4 L757.3 73.8 L758.0 73.2 L758.7 72.6 L759.3 72.0 L760.0 71.4 L760.7 70.8 L761.4 70.2 L762.1 69.6 L762.8 68.9 L763.5 68.3 L764.1 67.7 L764.8 67.1 L765.5 66.4 L766.2 65.8 L766.9 65.2 L767.6 64.5 L768.2 63.9 L768.9 63.3 L769.6 62.6 L770.3 62.0 L771.0 61.4 L771.7 60.7 L772.4 60.1 L773.0 59.4 L773.7 58.8 L774.4 58.1 L775.1 57.5 L775.8 56.8 L776.5 56.2 L777.1 55.5 L777.8 54.9 L778.5 54.2 L779.2 53.6 L779.9 52.9 L780.6 52.2 L781.2 51.6 L781.9 50.9 L782.6 50.3 L783.3 49.6 L784.0 49.0 L784.7 48.3 L785.4 47.6 L786.0 47.0 L786.7 46.3 L787.4 45.6 L788.1 45.0 L788.8 44.3 L789.5 43.6 L790.1 43.0 L790.8 42.3 L791.5 41.6 L792.2 41.0 L792.9 40.3 L793.6 39.6 L794.3 38.9 L794.9 38.3 L795.6 37.6 L796.3 36.9 L797.0 36.3 L797.7 35.6 L798.4 34.9 L799.0 34.2 L799.7 33.6 L800.4 32.9 L801.1 32.2 L801.8 31.5 L802.5 30.9 L803.1 30.2 L803.8 29.5 L804.5 28.8 L805.2 28.2 L805.9 27.5 L806.6 26.8 L807.3 26.1 L807.9 25.4 L808.6 24.8 L809.3 24.1 L810.0 23.4 L810.7 22.7 L811.4 22.0 L812.0 21.4 L812.7 20.7 L813.4 20.0 L814.1 19.3 L814.8 18.6 L815.5 18.0 L816.2 17.3 L816.8 16.6 L817.5 15.9 L818.2 15.2 L818.9 14.6 L819.6 13.9 L820.3 13.2 L820.9 12.5 L821.6 11.8 L822.3 11.1 L823.0 10.5 L823.7 9.8 L824.4 9.1 L825.0 8.4 L825.7 7.7 L826.4 7.0 L827.1 6.4 L827.1 49.0 L826.4 49.7 L825.7 50.4 L825.0 51.0 L824.4 51.7 L823.7 52.4 L823.0 53.1 L822.3 53.8 L821.6 54.5 L820.9 55.1 L820.3 55.8 L819.6 56.5 L818.9 57.2 L818.2 57.9 L817.5 58.6 L816.8 59.3 L816.2 59.9 L815.5 60.6 L814.8 61.3 L814.1 62.0 L813.4 62.7 L812.7 63.3 L812.0 64.0 L811.4 64.7 L810.7 65.4 L810.0 66.1 L809.3 66.8 L808.6 67.4 L807.9 68.1 L807.3 68.8 L806.6 69.5 L805.9 70.2 L805.2 70.8 L804.5 71.5 L803.8 72.2 L803.1 72.9 L802.5 73.6 L801.8 74.2 L801.1 74.9 L800.4 75.6 L799.7 76.3 L799.0 77.0 L798.4 77.6 L797.7 78.3 L797.0 79.0 L796.3 79.7 L795.6 80.3 L794.9 81.0 L794.3 81.7 L793.6 82.4 L792.9 83.1 L792.2 83.7 L791.5 84.4 L790.8 85.1 L790.1 85.7 L789.5 86.4 L788.8 87.1 L788.1 87.8 L787.4 88.4 L786.7 89.1 L786.0 89.8 L785.4 90.4 L784.7 91.1 L784.0 91.8 L783.3 92.5 L782.6 93.1 L781.9 93.8 L781.2 94.5 L780.6 95.1 L779.9 95.8 L779.2 96.4 L778.5 97.1 L777.8 97.8 L777.1 98.4 L776.5 99.1 L775.8 99.8 L775.1 100.4 L774.4 101.1 L773.7 101.7 L773.0 102.4 L772.4 103.0 L771.7 103.7 L771.0 104.3 L770.3 105.0 L769.6 105.6 L768.9 106.3 L768.2 106.9 L767.6 107.6 L766.9 108.2 L766.2 108.9 L765.5 109.5 L764.8 110.1 L764.1 110.8 L763.5 111.4 L762.8 112.0 L762.1 112.7 L761.4 113.3 L760.7 113.9 L760.0 114.6 L759.3 115.2 L758.7 115.8 L758.0 116.4 L757.3 117.0 L756.6 117.7 L755.9 118.3 L755.2 118.9 L754.6 119.5 L753.9 120.1 L753.2 120.7 L752.5 121.3 L751.8 121.9 L751.1 122.5 L750.5 123.1 L749.8 123.7 L749.1 124.2 L748.4 124.8 L747.7 125.4 L747.0 126.0 L746.3 126.5 L745.7 127.1 L745.0 127.7 L744.3 128.2 L743.6 128.8 L742.9 129.3 L742.2 129.9 L741.6 130.4 L740.9 131.0 L740.2 131.5 L739.5 132.0 L738.8 132.6 L738.1 133.1 L737.4 133.6 L736.8 134.1 L736.1 134.6 L735.4 135.1 L734.7 135.6 L734.0 136.1 L733.3 136.6 L732.7 137.1 L732.0 137.5 L731.3 138.0 L730.6 138.5 L729.9 138.9 L729.2 139.4 L728.6 139.8 L727.9 140.3 L727.2 140.7 L726.5 141.1 L725.8 141.6 L725.1 142.0 L724.4 142.4 L723.8 142.8 L723.1 143.2 L722.4 143.6 L721.7 144.0 L721.0 144.3 L720.3 144.7 L719.7 145.1 L719.0 145.4 L718.3 145.8 L717.6 146.1 L716.9 146.5 L716.2 146.8 L715.5 147.1 L714.9 147.4 L714.2 147.8 L713.5 148.1 L712.8 148.4 L712.1 148.6 L711.4 148.9 L710.8 149.2 L710.1 149.5 L709.4 149.8 L708.7 150.0 L708.0 150.3 L707.3 150.5 L706.7 150.8 L706.0 151.0 L705.3 151.2 L704.6 151.5 L703.9 151.7 L703.2 151.9 L702.5 152.1 L701.9 152.3 L701.2 152.5 L700.5 152.7 L699.8 152.9 L699.1 153.0 L698.4 153.2 L697.8 153.4 L697.1 153.6 L696.4 153.7 L695.7 153.9 L695.0 154.0 L694.3 154.2 L693.6 154.3 L693.0 154.4 L692.3 154.6 L691.6 154.7 L690.9 154.8 L690.2 154.9 L689.5 155.1 L688.9 155.2 L688.2 155.3 L687.5 155.4 L686.8 155.5 L686.1 155.6 L685.4 155.7 L684.8 155.8 L684.1 155.8 L683.4 155.9 L682.7 156.0 L682.0 156.1 L681.3 156.2 L680.6 156.2 L680.0 156.3 L679.3 156.4 L678.6 156.4 L677.9 156.5 L677.2 156.6 L676.5 156.6 L675.9 156.7 L675.2 156.7 L674.5 156.8 L673.8 156.8 L673.1 156.9 L672.4 156.9 L671.7 157.0 L671.1 157.0 L670.4 157.0 L669.7 157.1 L669.0 157.1 L668.3 157.1 L667.6 157.2 L667.0 157.2 L666.3 157.2 L665.6 157.3 L664.9 157.3 L664.2 157.3 L663.5 157.3 L662.9 157.4 L662.2 157.4 L661.5 157.4 L660.8 157.4 L660.1 157.5 L659.4 157.5 L658.7 157.5 L658.1 157.5 L657.4 157.5 L656.7 157.5 L656.0 157.6 L655.3 157.6 L654.6 157.6 L654.0 157.6 L653.3 157.6 L652.6 157.6 L651.9 157.6 L651.2 157.6 L650.5 157.6 L649.8 157.7 L649.2 157.7 L648.5 157.7 L647.8 157.7 L647.1 157.7 L646.4 157.7 L645.7 157.7 L645.1 157.7 L644.4 157.7 L643.7 157.7 L643.0 157.7 L642.3 157.7 L641.6 157.7 L641.0 157.7 L640.3 157.7 L639.6 157.7 L638.9 157.7 L638.2 157.7 L637.5 157.7 L636.8 157.7 L636.2 157.8 L635.5 157.8 L634.8 157.8 L634.1 157.8 L633.4 157.8 L632.7 157.8 L632.1 157.8 L631.4 157.8 L630.7 157.8 L630.0 157.8 L629.3 157.8 L628.6 157.8 L627.9 157.8 L627.3 157.8 L626.6 157.8 L625.9 157.8 L625.2 157.8 L624.5 157.8 L623.8 157.8 L623.2 157.8 L622.5 157.8 L621.8 157.8 L621.1 157.8 L620.4 157.8 L619.7 157.8 L619.1 157.8 L618.4 157.7 L617.7 157.7 L617.0 157.7 L616.3 157.7 L615.6 157.7 L614.9 157.7 L614.3 157.7 L613.6 157.7 L612.9 157.7 L612.2 157.7 L611.5 157.7 L610.8 157.7 L610.2 157.7 L609.5 157.7 L608.8 157.7 L608.1 157.7 L607.4 157.7 L606.7 157.7 L606.0 157.7 L605.4 157.7 L604.7 157.7 L604.0 157.7 L603.3 157.7 L602.6 157.7 L601.9 157.7 L601.3 157.7 L600.6 157.7 L599.9 157.7 L599.2 157.7 L598.5 157.7 L597.8 157.7 L597.2 157.7 L596.5 157.7 L595.8 157.7 L595.1 157.7 L594.4 157.7 L593.7 157.7 L593.0 157.7 L592.4 157.7 L591.7 157.7 L591.0 157.7 L590.3 157.7 L589.6 157.7 L588.9 157.7 L588.3 157.7 L587.6 157.7 L586.9 157.7 L586.2 157.7 L585.5 157.7 L584.8 157.7 L584.1 157.7 L583.5 157.7 L582.8 157.7 L582.1 157.7 L581.4 157.7 L580.7 157.7 L580.0 157.7 L579.4 157.7 L578.7 157.7 L578.0 157.7 L577.3 157.7 L576.6 157.7 L575.9 157.7 L575.3 157.7 L574.6 157.7 L573.9 157.7 L573.2 157.7 L572.5 157.7 L571.8 157.7 L571.1 157.7 L570.5 157.7 L569.8 157.7 L569.1 157.6 L568.4 157.6 L567.7 157.6 L567.0 157.6 L566.4 157.6 L565.7 157.6 L565.0 157.6 L564.3 157.6 L563.6 157.6 L562.9 157.6 L562.2 157.6 L561.6 157.6 L560.9 157.6 L560.2 157.6 L559.5 157.6 L558.8 157.6 L558.1 157.6 L557.5 157.6 L556.8 157.6 L556.1 157.6 L555.4 157.6 L554.7 157.6 L554.0 157.6 L553.4 157.6 L552.7 157.6 L552.0 157.6 L551.3 157.6 L550.6 157.6 L549.9 157.6 L549.2 157.6 L548.6 157.6 L547.9 157.6 L547.2 157.6 L546.5 157.6 L545.8 157.6 L545.1 157.6 L544.5 157.6 L543.8 157.6 L543.1 157.6 L542.4 157.6 L541.7 157.6 L541.0 157.6 L540.3 157.6 L539.7 157.6 L539.0 157.6 L538.3 157.6 L537.6 157.6 L536.9 157.6 L536.2 157.6 L535.6 157.6 L534.9 157.6 L534.2 157.6 L533.5 157.6 L532.8 157.6 L532.1 157.6 L531.5 157.6 L530.8 157.6 L530.1 157.6 L529.4 157.6 L528.7 157.6 L528.0 157.6 L527.3 157.6 L526.7 157.6 L526.0 157.6 L525.3 157.6 L524.6 157.6 L523.9 157.6 L523.2 157.6 L522.6 157.6 L521.9 157.6 L521.2 157.6 L520.5 157.6 L519.8 157.6 L519.1 157.6 L518.4 157.6 L517.8 157.6 L517.1 157.6 L516.4 157.6 L515.7 157.6 L515.0 157.6 L514.3 157.6 L513.7 157.6 L513.0 157.6 L512.3 157.6 L511.6 157.6 L510.9 157.6 L510.2 157.6 L509.6 157.6 L508.9 157.6 L508.2 157.6 L507.5 157.6 L506.8 157.6 L506.1 157.6 L505.4 157.6 L504.8 157.6 L504.1 157.6 L503.4 157.6 L502.7 157.6 L502.0 157.6 L501.3 157.6 L500.7 157.6 L500.0 157.6 L499.3 157.6 L498.6 157.6 L497.9 157.6 L497.2 157.6 L496.5 157.6 L495.9 157.6 L495.2 157.6 L494.5 157.6 L493.8 157.6 L493.1 157.6 L492.4 157.6 L491.8 157.6 L491.1 157.6 L490.4 157.6 L489.7 157.6 L489.0 157.6 L488.3 157.6 L487.7 157.6 L487.0 157.6 L486.3 157.6 L485.6 157.6Z"/></defs>
<use href="#p4b" fill="#a020f0"/>
<use href="#p4b" fill="url(#gridb)"/>
<use href="#p3b" fill="#1e90ff"/>
<use href="#p3b" fill="url(#gridb)"/>
<path d="M687.5 348.0 L688.2 334.4 L688.9 322.4 L689.5 313.1 L690.2 305.4 L690.9 298.8 L691.6 293.0 L692.3 287.8 L693.0 283.1 L693.6 278.8 L694.3 274.9 L695.0 271.1 L695.7 267.6 L696.4 264.4 L697.1 261.2 L697.8 258.2 L698.4 255.4 L699.1 252.7 L699.8 250.0 L700.5 247.5 L701.2 245.0 L701.9 242.7 L702.5 240.4 L703.2 238.1 L703.9 236.0 L704.6 233.8 L705.3 231.8 L706.0 229.7 L706.7 227.8 L707.3 225.8 L708.0 223.9 L708.7 222.1 L709.4 220.3 L710.1 218.5 L710.8 216.7 L711.4 215.0 L712.1 213.3 L712.8 211.6 L713.5 210.0 L714.2 208.4 L714.9 206.8 L715.5 205.2 L716.2 203.6 L716.9 202.1 L717.6 200.6 L718.3 199.1 L719.0 197.6 L719.7 196.1 L720.3 194.7 L721.0 193.3 L721.7 191.9 L722.4 190.5 L723.1 189.1 L723.8 187.7 L724.4 186.4 L725.1 185.0 L725.8 183.7 L726.5 182.4 L727.2 181.1 L727.9 179.8 L728.6 178.5 L729.2 177.3 L729.9 176.0 L730.6 174.8 L731.3 173.5 L732.0 172.3 L732.7 171.1 L733.3 169.9 L734.0 168.7 L734.7 167.5 L735.4 166.4 L736.1 165.2 L736.8 164.1 L737.4 162.9 L738.1 161.8 L738.8 160.7 L739.5 159.5 L740.2 158.4 L740.9 157.3 L741.6 156.2 L742.2 155.1 L742.9 154.1 L743.6 153.0 L744.3 151.9 L745.0 150.9 L745.7 149.8 L746.3 148.8 L747.0 147.8 L747.7 146.7 L748.4 145.7 L749.1 144.7 L749.8 143.7 L750.5 142.7 L751.1 141.7 L751.8 140.7 L752.5 139.7 L753.2 138.7 L753.9 137.7 L754.6 136.8 L755.2 135.8 L755.9 134.8 L756.6 133.9 L757.3 132.9 L758.0 132.0 L758.7 131.1 L759.3 130.1 L760.0 129.2 L760.7 128.3 L761.4 127.3 L762.1 126.4 L762.8 125.5 L763.5 124.6 L764.1 123.7 L764.8 122.8 L765.5 121.9 L766.2 121.0 L766.9 120.1 L767.6 119.2 L768.2 118.4 L768.9 117.5 L769.6 116.6 L770.3 115.7 L771.0 114.9 L771.7 114.0 L772.4 113.2 L773.0 112.3 L773.7 111.5 L774.4 110.6 L775.1 109.8 L775.8 108.9 L776.5 108.1 L777.1 107.2 L777.8 106.4 L778.5 105.6 L779.2 104.7 L779.9 103.9 L780.6 103.1 L781.2 102.3 L781.9 101.5 L782.6 100.6 L783.3 99.8 L784.0 99.0 L784.7 98.2 L785.4 97.4 L786.0 96.6 L786.7 95.8 L787.4 95.0 L788.1 94.2 L788.8 93.4 L789.5 92.6 L790.1 91.8 L790.8 91.1 L791.5 90.3 L792.2 89.5 L792.9 88.7 L793.6 87.9 L794.3 87.1 L794.9 86.4 L795.6 85.6 L796.3 84.8 L797.0 84.1 L797.7 83.3 L798.4 82.5 L799.0 81.7 L799.7 81.0 L800.4 80.2 L801.1 79.5 L801.8 78.7 L802.5 77.9 L803.1 77.2 L803.8 76.4 L804.5 75.7 L805.2 74.9 L805.9 74.2 L806.6 73.4 L807.3 72.7 L807.9 71.9 L808.6 71.2 L809.3 70.4 L810.0 69.7 L810.7 69.0 L811.4 68.2 L812.0 67.5 L812.7 66.7 L813.4 66.0 L814.1 65.3 L814.8 64.5 L815.5 63.8 L816.2 63.1 L816.8 62.3 L817.5 61.6 L818.2 60.9 L818.9 60.2 L819.6 59.4 L820.3 58.7 L820.9 58.0 L821.6 57.3 L822.3 56.5 L823.0 55.8 L823.7 55.1 L824.4 54.4 L825.0 53.6 L825.7 52.9 L826.4 52.2 L827.1 51.5 M485.6 105.6 L486.3 105.6 L487.0 105.6 L487.7 105.6 L488.3 105.6 L489.0 105.6 L489.7 105.6 L490.4 105.6 L491.1 105.6 L491.8 105.6 L492.4 105.6 L493.1 105.6 L493.8 105.6 L494.5 105.6 L495.2 105.6 L495.9 105.6 L496.5 105.6 L497.2 105.6 L497.9 105.6 L498.6 105.6 L499.3 105.6 L500.0 105.6 L500.7 105.6 L501.3 105.6 L502.0 105.6 L502.7 105.6 L503.4 105.6 L504.1 105.6 L504.8 105.6 L505.4 105.6 L506.1 105.6 L506.8 105.6 L507.5 105.6 L508.2 105.6 L508.9 105.6 L509.6 105.6 L510.2 105.5 L510.9 105.5 L511.6 105.5 L512.3 105.5 L513.0 105.5 L513.7 105.5 L514.3 105.5 L515.0 105.5 L515.7 105.5 L516.4 105.5 L517.1 105.5 L517.8 105.5 L518.4 105.5 L519.1 105.5 L519.8 105.5 L520.5 105.5 L521.2 105.5 L521.9 105.5 L522.6 105.5 L523.2 105.5 L523.9 105.5 L524.6 105.5 L525.3 105.5 L526.0 105.5 L526.7 105.5 L527.3 105.5 L528.0 105.5 L528.7 105.5 L529.4 105.5 L530.1 105.5 L530.8 105.5 L531.5 105.5 L532.1 105.5 L532.8 105.5 L533.5 105.5 L534.2 105.5 L534.9 105.5 L535.6 105.5 L536.2 105.5 L536.9 105.5 L537.6 105.5 L538.3 105.5 L539.0 105.5 L539.7 105.5 L540.3 105.5 L541.0 105.5 L541.7 105.5 L542.4 105.5 L543.1 105.5 L543.8 105.5 L544.5 105.5 L545.1 105.5 L545.8 105.5 L546.5 105.5 L547.2 105.5 L547.9 105.5 L548.6 105.5 L549.2 105.5 L549.9 105.5 L550.6 105.5 L551.3 105.5 L552.0 105.5 L552.7 105.5 L553.4 105.5 L554.0 105.5 L554.7 105.5 L555.4 105.5 L556.1 105.5 L556.8 105.5 L557.5 105.5 L558.1 105.5 L558.8 105.5 L559.5 105.5 L560.2 105.5 L560.9 105.5 L561.6 105.5 L562.2 105.5 L562.9 105.5 L563.6 105.5 L564.3 105.5 L565.0 105.5 L565.7 105.5 L566.4 105.5 L567.0 105.5 L567.7 105.5 L568.4 105.5 L569.1 105.5 L569.8 105.5 L570.5 105.5 L571.1 105.5 L571.8 105.5 L572.5 105.5 L573.2 105.5 L573.9 105.5 L574.6 105.5 L575.3 105.5 L575.9 105.5 L576.6 105.5 L577.3 105.5 L578.0 105.5 L578.7 105.5 L579.4 105.5 L580.0 105.5 L580.7 105.5 L581.4 105.5 L582.1 105.5 L582.8 105.5 L583.5 105.5 L584.1 105.5 L584.8 105.5 L585.5 105.5 L586.2 105.5 L586.9 105.5 L587.6 105.5 L588.3 105.5 L588.9 105.5 L589.6 105.5 L590.3 105.5 L591.0 105.5 L591.7 105.5 L592.4 105.5 L593.0 105.5 L593.7 105.5 L594.4 105.5 L595.1 105.5 L595.8 105.5 L596.5 105.5 L597.2 105.5 L597.8 105.5 L598.5 105.5 L599.2 105.5 L599.9 105.5 L600.6 105.5 L601.3 105.5 L601.9 105.5 L602.6 105.5 L603.3 105.5 L604.0 105.5 L604.7 105.5 L605.4 105.5 L606.0 105.5 L606.7 105.5 L607.4 105.5 L608.1 105.4 L608.8 105.4 L609.5 105.4 L610.2 105.4 L610.8 105.4 L611.5 105.4 L612.2 105.4 L612.9 105.4 L613.6 105.4 L614.3 105.4 L614.9 105.4 L615.6 105.4 L616.3 105.4 L617.0 105.4 L617.7 105.4 L618.4 105.4 L619.1 105.4 L619.7 105.4 L620.4 105.4 L621.1 105.4 L621.8 105.4 L622.5 105.4 L623.2 105.4 L623.8 105.4 L624.5 105.4 L625.2 105.3 L625.9 105.3 L626.6 105.3 L627.3 105.3 L627.9 105.3 L628.6 105.3 L629.3 105.3 L630.0 105.3 L630.7 105.3 L631.4 105.3 L632.1 105.3 L632.7 105.3 L633.4 105.3 L634.1 105.3 L634.8 105.3 L635.5 105.2 L636.2 105.2 L636.8 105.2 L637.5 105.2 L638.2 105.2 L638.9 105.2 L639.6 105.2 L640.3 105.2 L641.0 105.2 L641.6 105.2 L642.3 105.1 L643.0 105.1 L643.7 105.1 L644.4 105.1 L645.1 105.1 L645.7 105.1 L646.4 105.1 L647.1 105.0 L647.8 105.0 L648.5 105.0 L649.2 105.0 L649.8 105.0 L650.5 105.0 L651.2 104.9 L651.9 104.9 L652.6 104.9 L653.3 104.9 L654.0 104.9 L654.6 104.8 L655.3 104.8 L656.0 104.8 L656.7 104.8 L657.4 104.8 L658.1 104.7 L658.7 104.7 L659.4 104.7 L660.1 104.7 L660.8 104.6 L661.5 104.6 L662.2 104.6 L662.9 104.5 L663.5 104.5 L664.2 104.5 L664.9 104.4 L665.6 104.4 L666.3 104.4 L667.0 104.3 L667.6 104.3 L668.3 104.2 L669.0 104.2 L669.7 104.2 L670.4 104.1 L671.1 104.1 L671.7 104.0 L672.4 104.0 L673.1 103.9 L673.8 103.9 L674.5 103.8 L675.2 103.8 L675.9 103.7 L676.5 103.6 L677.2 103.6 L677.9 103.5 L678.6 103.5 L679.3 103.4 L680.0 103.3 L680.6 103.3 L681.3 103.2 L682.0 103.1 L682.7 103.0 L683.4 102.9 L684.1 102.9 L684.8 102.8 L685.4 102.7 L686.1 102.6 L686.8 102.5 L687.5 102.4 L688.2 102.3 L688.9 102.2 L689.5 102.1 L690.2 102.0 L690.9 101.9 L691.6 101.8 L692.3 101.7 L693.0 101.5 L693.6 101.4 L694.3 101.3 L695.0 101.2 L695.7 101.0 L696.4 100.9 L697.1 100.7 L697.8 100.6 L698.4 100.4 L699.1 100.3 L699.8 100.1 L700.5 100.0 L701.2 99.8 L701.9 99.6 L702.5 99.5 L703.2 99.3 L703.9 99.1 L704.6 98.9 L705.3 98.7 L706.0 98.5 L706.7 98.3 L707.3 98.1 L708.0 97.9 L708.7 97.7 L709.4 97.4 L710.1 97.2 L710.8 97.0 L711.4 96.7 L712.1 96.5 L712.8 96.2 L713.5 96.0 L714.2 95.7 L714.9 95.5 L715.5 95.2 L716.2 94.9 L716.9 94.6 L717.6 94.4 L718.3 94.1 L719.0 93.8 L719.7 93.5 L720.3 93.2 L721.0 92.8 L721.7 92.5 L722.4 92.2 L723.1 91.9 L723.8 91.5 L724.4 91.2 L725.1 90.8 L725.8 90.5 L726.5 90.1 L727.2 89.8 L727.9 89.4 L728.6 89.0 L729.2 88.6 L729.9 88.3 L730.6 87.9 L731.3 87.5 L732.0 87.1 L732.7 86.7 L733.3 86.2 L734.0 85.8 L734.7 85.4 L735.4 85.0 L736.1 84.6 L736.8 84.1 L737.4 83.7 L738.1 83.2 L738.8 82.8 L739.5 82.3 L740.2 81.9 L740.9 81.4 L741.6 80.9 L742.2 80.5 L742.9 80.0 L743.6 79.5 L744.3 79.0 L745.0 78.5 L745.7 78.0 L746.3 77.5 L747.0 77.0 L747.7 76.5 L748.4 76.0 L749.1 75.5 L749.8 75.0 L750.5 74.5 L751.1 73.9 L751.8 73.4 L752.5 72.9 L753.2 72.4 L753.9 71.8 L754.6 71.3 L755.2 70.7 L755.9 70.2 L756.6 69.6 L757.3 69.1 L758.0 68.5 L758.7 68.0 L759.3 67.4 L760.0 66.8 L760.7 66.3 L761.4 65.7 L762.1 65.1 L762.8 64.6 L763.5 64.0 L764.1 63.4 L764.8 62.8 L765.5 62.2 L766.2 61.6 L766.9 61.1 L767.6 60.5 L768.2 59.9 L768.9 59.3 L769.6 58.7 L770.3 58.1 L771.0 57.5 L771.7 56.9 L772.4 56.3 L773.0 55.7 L773.7 55.1 L774.4 54.4 L775.1 53.8 L775.8 53.2 L776.5 52.6 L777.1 52.0 L777.8 51.4 L778.5 50.7 L779.2 50.1 L779.9 49.5 L780.6 48.9 L781.2 48.3 L781.9 47.6 L782.6 47.0 L783.3 46.4 L784.0 45.7 L784.7 45.1 L785.4 44.5 L786.0 43.8 L786.7 43.2 L787.4 42.6 L788.1 41.9 L788.8 41.3 L789.5 40.6 L790.1 40.0 L790.8 39.4 L791.5 38.7 L792.2 38.1 L792.9 37.4 L793.6 36.8 L794.3 36.1 L794.9 35.5 L795.6 34.8 L796.3 34.2 L797.0 33.5 L797.7 32.9 L798.4 32.2 L799.0 31.6 L799.7 30.9 L800.4 30.3 L801.1 29.6 L801.8 29.0 L802.5 28.3 L803.1 27.7 L803.8 27.0 L804.5 26.3 L805.2 25.7 L805.9 25.0 L806.6 24.4 L807.3 23.7 L807.9 23.0 L808.6 22.4 L809.3 21.7 L810.0 21.0 L810.7 20.4 L811.4 19.7 L812.0 19.1 L812.7 18.4 L813.4 17.7 L814.1 17.1 L814.8 16.4 L815.5 15.7 L816.2 15.0 L816.8 14.4 L817.5 13.7 L818.2 13.0 L818.9 12.4 L819.6 11.7 L820.3 11.0 L820.9 10.4 L821.6 9.7 L822.3 9.0 L823.0 8.3 L823.7 7.7 L824.4 7.0 L825.0 6.3 L825.7 5.7 L826.4 5.0 L827.1 4.3" fill="none" stroke="#a020f0" stroke-width="1.25"/>
<path d="M429.50 73.10 l36.90 36.90 M444.50 73.10 l36.90 36.90 M459.50 73.10 l36.90 36.90 M474.50 73.10 l36.90 36.90 M489.50 73.10 l36.90 36.90 M504.50 73.10 l36.90 36.90 M519.50 73.10 l36.90 36.90 M534.50 73.10 l36.90 36.90 M549.50 73.10 l36.90 36.90 M564.50 73.10 l36.90 36.90 M579.50 73.10 l36.90 36.90 M594.50 73.10 l36.90 36.90 M609.50 73.10 l36.90 36.90 M624.50 73.10 l36.90 36.90 M639.50 73.10 l36.90 36.90 M654.50 73.10 l36.90 36.90 M669.50 73.10 l36.90 36.90 M684.50 73.10 l36.90 36.90 M699.50 73.10 l36.90 36.90 M714.50 73.10 l36.90 36.90 M729.50 73.10 l36.90 36.90 M744.50 73.10 l36.90 36.90 M759.50 73.10 l36.90 36.90 M774.50 73.10 l36.90 36.90 M789.50 73.10 l36.90 36.90 M804.50 73.10 l36.90 36.90 M819.50 73.10 l36.90 36.90" stroke="#ff0000" stroke-width="0.8" fill="none"/>
<path d="M485.8 73.10 H827.1 M485.8 110.00 H827.1" stroke="#ff0000" stroke-width="0.85" fill="none"/>
</g>
<path d="M485.80 348.2 v-7.0 M485.80 6.0 v7.0 M485.8 348.20 h7.0 M827.1 348.20 h-7.0 M511.49 348.2 v-3.8 M511.49 6.0 v3.8 M485.8 322.45 h3.8 M827.1 322.45 h-3.8 M526.51 348.2 v-3.8 M526.51 6.0 v3.8 M485.8 307.38 h3.8 M827.1 307.38 h-3.8 M537.17 348.2 v-3.8 M537.17 6.0 v3.8 M485.8 296.69 h3.8 M827.1 296.69 h-3.8 M545.44 348.2 v-3.8 M545.44 6.0 v3.8 M485.8 288.40 h3.8 M827.1 288.40 h-3.8 M552.20 348.2 v-3.8 M552.20 6.0 v3.8 M485.8 281.63 h3.8 M827.1 281.63 h-3.8 M557.91 348.2 v-3.8 M557.91 6.0 v3.8 M485.8 275.90 h3.8 M827.1 275.90 h-3.8 M562.86 348.2 v-3.8 M562.86 6.0 v3.8 M485.8 270.94 h3.8 M827.1 270.94 h-3.8 M567.22 348.2 v-3.8 M567.22 6.0 v3.8 M485.8 266.56 h3.8 M827.1 266.56 h-3.8 M571.12 348.2 v-7.0 M571.12 6.0 v7.0 M485.8 262.65 h7.0 M827.1 262.65 h-7.0 M596.81 348.2 v-3.8 M596.81 6.0 v3.8 M485.8 236.90 h3.8 M827.1 236.90 h-3.8 M611.84 348.2 v-3.8 M611.84 6.0 v3.8 M485.8 221.83 h3.8 M827.1 221.83 h-3.8 M622.50 348.2 v-3.8 M622.50 6.0 v3.8 M485.8 211.14 h3.8 M827.1 211.14 h-3.8 M630.76 348.2 v-3.8 M630.76 6.0 v3.8 M485.8 202.85 h3.8 M827.1 202.85 h-3.8 M637.52 348.2 v-3.8 M637.52 6.0 v3.8 M485.8 196.08 h3.8 M827.1 196.08 h-3.8 M643.23 348.2 v-3.8 M643.23 6.0 v3.8 M485.8 190.35 h3.8 M827.1 190.35 h-3.8 M648.18 348.2 v-3.8 M648.18 6.0 v3.8 M485.8 185.39 h3.8 M827.1 185.39 h-3.8 M652.55 348.2 v-3.8 M652.55 6.0 v3.8 M485.8 181.01 h3.8 M827.1 181.01 h-3.8 M656.45 348.2 v-7.0 M656.45 6.0 v7.0 M485.8 177.10 h7.0 M827.1 177.10 h-7.0 M682.14 348.2 v-3.8 M682.14 6.0 v3.8 M485.8 151.35 h3.8 M827.1 151.35 h-3.8 M697.16 348.2 v-3.8 M697.16 6.0 v3.8 M485.8 136.28 h3.8 M827.1 136.28 h-3.8 M707.82 348.2 v-3.8 M707.82 6.0 v3.8 M485.8 125.59 h3.8 M827.1 125.59 h-3.8 M716.09 348.2 v-3.8 M716.09 6.0 v3.8 M485.8 117.30 h3.8 M827.1 117.30 h-3.8 M722.85 348.2 v-3.8 M722.85 6.0 v3.8 M485.8 110.53 h3.8 M827.1 110.53 h-3.8 M728.56 348.2 v-3.8 M728.56 6.0 v3.8 M485.8 104.80 h3.8 M827.1 104.80 h-3.8 M733.51 348.2 v-3.8 M733.51 6.0 v3.8 M485.8 99.84 h3.8 M827.1 99.84 h-3.8 M737.87 348.2 v-3.8 M737.87 6.0 v3.8 M485.8 95.46 h3.8 M827.1 95.46 h-3.8 M741.78 348.2 v-7.0 M741.78 6.0 v7.0 M485.8 91.55 h7.0 M827.1 91.55 h-7.0 M767.46 348.2 v-3.8 M767.46 6.0 v3.8 M485.8 65.80 h3.8 M827.1 65.80 h-3.8 M782.49 348.2 v-3.8 M782.49 6.0 v3.8 M485.8 50.73 h3.8 M827.1 50.73 h-3.8 M793.15 348.2 v-3.8 M793.15 6.0 v3.8 M485.8 40.04 h3.8 M827.1 40.04 h-3.8 M801.41 348.2 v-3.8 M801.41 6.0 v3.8 M485.8 31.75 h3.8 M827.1 31.75 h-3.8 M808.17 348.2 v-3.8 M808.17 6.0 v3.8 M485.8 24.98 h3.8 M827.1 24.98 h-3.8 M813.88 348.2 v-3.8 M813.88 6.0 v3.8 M485.8 19.25 h3.8 M827.1 19.25 h-3.8 M818.83 348.2 v-3.8 M818.83 6.0 v3.8 M485.8 14.29 h3.8 M827.1 14.29 h-3.8 M823.20 348.2 v-3.8 M823.20 6.0 v3.8 M485.8 9.91 h3.8 M827.1 9.91 h-3.8 M827.10 348.2 v-7.0 M827.10 6.0 v7.0 M485.8 6.00 h7.0 M827.1 6.00 h-7.0" stroke="#000" stroke-width="1" fill="none"/>
<rect x="485.8" y="6.0" width="341.3" height="342.2" fill="none" stroke="#000" stroke-width="1.05"/>
<rect x="485.8" y="6.0" width="120.19999999999999" height="55.4" fill="#fff" stroke="#000" stroke-width="1.1"/>
<path d="M495.1 33.6 h22.7" stroke="#1e90ff" stroke-width="2.2" fill="none"/>
<path d="M495.1 47.5 h22.7" stroke="#a020f0" stroke-width="2.2" fill="none"/>
</svg>
<div class="t c" style="left:60.8px;top:362.0px;"><span class="tk">10<sup>−4</sup></span></div>
<div class="t c" style="left:146.2px;top:362.0px;"><span class="tk">10<sup>−3</sup></span></div>
<div class="t c" style="left:231.6px;top:362.0px;"><span class="tk">10<sup>−2</sup></span></div>
<div class="t c" style="left:317.0px;top:362.0px;"><span class="tk">10<sup>−1</sup></span></div>
<div class="t c" style="left:402.4px;top:362.0px;"><span class="tk">1</span></div>
<div class="t r" style="left:45.8px;top:343.9px;"><span class="tk">10<sup>−4</sup></span></div>
<div class="t r" style="left:45.8px;top:258.3px;"><span class="tk">10<sup>−3</sup></span></div>
<div class="t r" style="left:45.8px;top:172.8px;"><span class="tk">10<sup>−2</sup></span></div>
<div class="t r" style="left:45.8px;top:87.2px;"><span class="tk">10<sup>−1</sup></span></div>
<div class="t r" style="left:44.9px;top:0.3px;"><span class="tk">1</span></div>
<div class="t lg c" style="left:120.2px;top:7.9px;">Normal 3ν Ordering</div>
<div class="t lg le" style="left:101.7px;top:27.0px;">3ν</div>
<div class="t lg le" style="left:124.6px;top:27.0px;">(90% CL)</div>
<div class="t lg le" style="left:101.7px;top:40.6px;">3+1 (90% CL)</div>
<div class="t red" style="left:193.9px;top:59.9px;">90% C.L. UPPER LIMIT</div>
<div class="t ax" style="left:144.9px;top:385.7px;">Lightest mass:</div>
<div class="t ax" style="left:256.6px;top:385.7px;">m<sub>1</sub></div>
<div class="t ax" style="left:290.6px;top:385.7px;">[eV]</div>
<div class="t ax" style="left:-1.4px;top:211.6px;transform-origin:0 0;transform:rotate(-90deg);">m<span class="bb">ββ</span><span class="ev">[eV]</span></div>
<div class="t cap c" style="left:201.9px;top:409.5px;"><span class="pr">(</span>a<span class="pr">)</span></div>
<div class="t c" style="left:486.2px;top:362.0px;"><span class="tk">10<sup>−4</sup></span></div>
<div class="t c" style="left:571.5px;top:362.0px;"><span class="tk">10<sup>−3</sup></span></div>
<div class="t c" style="left:656.9px;top:362.0px;"><span class="tk">10<sup>−2</sup></span></div>
<div class="t c" style="left:742.2px;top:362.0px;"><span class="tk">10<sup>−1</sup></span></div>
<div class="t c" style="left:827.5px;top:362.0px;"><span class="tk">1</span></div>
<div class="t r" style="left:471.4px;top:343.9px;"><span class="tk">10<sup>−4</sup></span></div>
<div class="t r" style="left:471.4px;top:258.3px;"><span class="tk">10<sup>−3</sup></span></div>
<div class="t r" style="left:471.4px;top:172.8px;"><span class="tk">10<sup>−2</sup></span></div>
<div class="t r" style="left:471.4px;top:87.2px;"><span class="tk">10<sup>−1</sup></span></div>
<div class="t r" style="left:470.5px;top:0.3px;"><span class="tk">1</span></div>
<div class="t lg c" style="left:545.8px;top:7.9px;">Inverted 3ν Ordering</div>
<div class="t lg le" style="left:527.3px;top:27.0px;">3ν</div>
<div class="t lg le" style="left:550.2px;top:27.0px;">(90% CL)</div>
<div class="t lg le" style="left:527.3px;top:40.6px;">3+1 (90% CL)</div>
<div class="t red" style="left:618.7px;top:59.9px;">90% C.L. UPPER LIMIT</div>
<div class="t ax" style="left:570.5px;top:385.7px;">Lightest mass:</div>
<div class="t ax" style="left:682.2px;top:385.7px;">m<sub>3</sub></div>
<div class="t ax" style="left:716.2px;top:385.7px;">[eV]</div>
<div class="t ax" style="left:424.2px;top:211.6px;transform-origin:0 0;transform:rotate(-90deg);">m<span class="bb">ββ</span><span class="ev">[eV]</span></div>
<div class="t cap c" style="left:627.2px;top:409.5px;"><span class="pr">(</span>b<span class="pr">)</span></div>
</div></body></html>
